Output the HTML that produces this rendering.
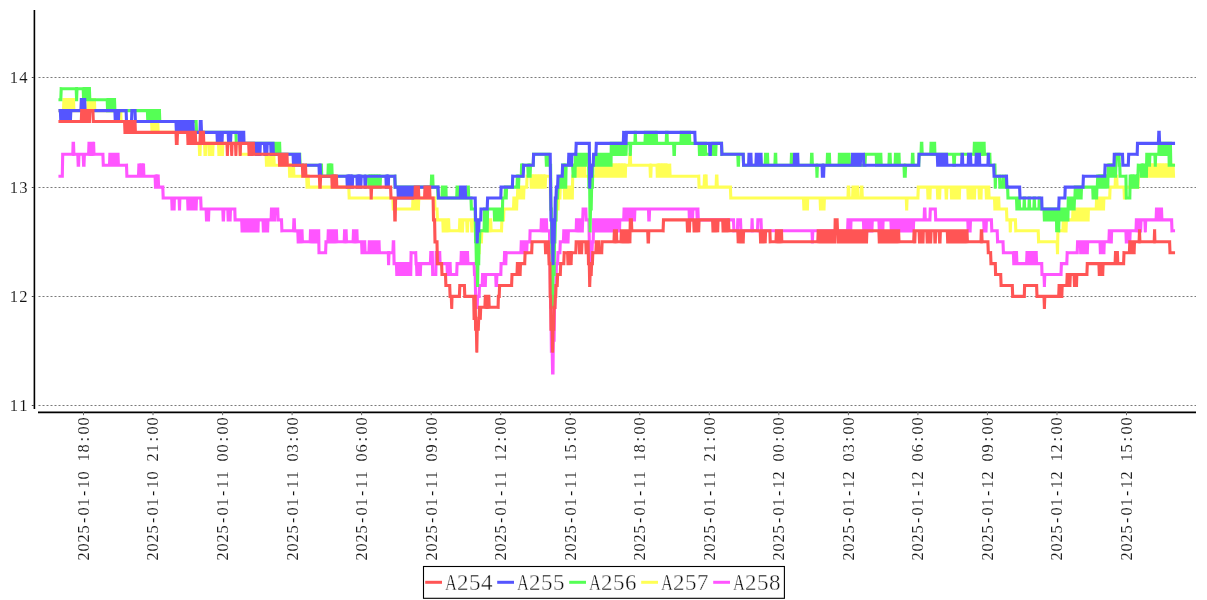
<!DOCTYPE html>
<html><head><meta charset="utf-8"><title>chart</title>
<style>
html,body{margin:0;padding:0;background:#fff;}
body{width:1207px;height:600px;overflow:hidden;}
svg{display:block;}
text{font-family:"Liberation Serif","Noto Serif CJK SC",serif;}
.t{opacity:0.999;}
.yl{font-size:16.6px;fill:#111;stroke:#fff;stroke-width:0.1px;}
.xl{font-size:16.4px;fill:#111;stroke:#fff;stroke-width:0.1px;}
.lg{font-size:23px;fill:#111;stroke:#fff;stroke-width:0.4px;}
.s{fill:none;stroke-width:3.1;stroke-linecap:square;}
</style></head><body>
<svg width="1207" height="600" viewBox="0 0 1207 600">
<rect width="1207" height="600" fill="#fff"/>
<g stroke="#7a7a7a" stroke-width="1" stroke-dasharray="2 2" fill="none">
<line x1="38.5" y1="405.5" x2="1196" y2="405.5"/>
<line x1="38.5" y1="296.5" x2="1196" y2="296.5"/>
<line x1="38.5" y1="187.5" x2="1196" y2="187.5"/>
<line x1="38.5" y1="77.5" x2="1196" y2="77.5"/>
</g>
<path class="s" stroke="#ff55ff" d="M60.0 176.2L62.3 176.2M62.3 176.2L62.7 154.3M62.7 154.3L72.8 154.3M72.8 154.3L73.1 143.4M73.1 143.4L73.5 143.4M73.5 143.4L73.9 154.3M73.9 154.3L77.8 154.3M77.8 154.3L78.2 165.2M78.2 165.2L78.6 165.2M78.6 165.2L78.9 154.3M78.9 154.3L83.2 154.3M83.2 154.3L83.6 165.2M83.6 165.2L84.0 165.2M84.0 165.2L84.4 154.3M84.4 154.3L88.6 154.3M88.6 154.3L89.0 143.4M89.0 143.4L89.4 143.4M89.4 143.4L89.8 154.3M89.8 154.3L90.2 154.3M90.2 154.3L90.5 143.4M90.5 143.4L90.9 143.4M90.9 143.4L91.3 154.3M91.3 154.3L91.7 154.3M91.7 154.3L92.1 143.4M92.1 143.4L92.5 143.4M92.5 143.4L92.9 154.3M92.9 154.3L93.3 154.3M93.3 154.3L93.6 143.4M93.6 143.4L94.0 154.3M94.0 154.3L102.9 154.3M102.9 154.3L103.3 165.2M103.3 165.2L109.5 165.2M109.5 165.2L109.9 154.3M109.9 154.3L110.3 154.3M110.3 154.3L110.6 165.2M110.6 165.2L111.0 165.2M111.0 165.2L111.4 154.3M111.4 154.3L111.8 154.3M111.8 154.3L112.2 165.2M112.2 165.2L112.6 165.2M112.6 165.2L113.0 154.3M113.0 154.3L113.4 154.3M113.4 154.3L113.7 165.2M113.7 165.2L114.1 165.2M114.1 165.2L114.5 154.3M114.5 154.3L114.9 154.3M114.9 154.3L115.3 165.2M115.3 165.2L115.7 165.2M115.7 165.2L116.1 154.3M116.1 154.3L116.4 154.3M116.4 154.3L116.8 165.2M116.8 165.2L117.2 165.2M117.2 165.2L117.6 154.3M117.6 154.3L118.0 154.3M118.0 154.3L118.4 165.2M118.4 165.2L126.5 165.2M126.5 165.2L126.9 176.2M126.9 176.2L138.5 176.2M138.5 176.2L138.9 165.2M138.9 165.2L139.3 165.2M139.3 165.2L139.6 176.2M139.6 176.2L140.0 176.2M140.0 176.2L140.4 165.2M140.4 165.2L140.8 165.2M140.8 165.2L141.2 176.2M141.2 176.2L141.6 176.2M141.6 176.2L142.0 165.2M142.0 165.2L142.4 165.2M142.4 165.2L142.7 176.2M142.7 176.2L143.1 176.2M143.1 176.2L143.5 165.2M143.5 165.2L143.9 176.2M143.9 176.2L155.1 176.2M155.1 176.2L155.5 187.1M155.5 187.1L155.9 187.1M155.9 187.1L156.3 176.2M156.3 176.2L156.7 176.2M156.7 176.2L157.0 187.1M157.0 187.1L157.4 187.1M157.4 187.1L157.8 176.2M157.8 176.2L158.2 176.2M158.2 176.2L158.6 187.1M158.6 187.1L162.8 187.1M162.8 187.1L163.2 198.0M163.2 198.0L171.7 198.0M171.7 198.0L172.1 209.0M172.1 209.0L172.5 209.0M172.5 209.0L172.9 198.0M172.9 198.0L173.3 198.0M173.3 198.0L173.7 209.0M173.7 209.0L174.1 209.0M174.1 209.0L174.4 198.0M174.4 198.0L179.1 198.0M179.1 198.0L179.5 209.0M179.5 209.0L179.9 198.0M179.9 198.0L187.6 198.0M187.6 198.0L188.0 209.0M188.0 209.0L188.4 209.0M188.4 209.0L188.7 198.0M188.7 198.0L189.1 198.0M189.1 198.0L189.5 209.0M189.5 209.0L189.9 209.0M189.9 209.0L190.3 198.0M190.3 198.0L190.7 198.0M190.7 198.0L191.1 209.0M191.1 209.0L191.5 209.0M191.5 209.0L191.8 198.0M191.8 198.0L192.2 198.0M192.2 198.0L192.6 209.0M192.6 209.0L193.0 209.0M193.0 209.0L193.4 198.0M193.4 198.0L193.8 198.0M193.8 198.0L194.2 209.0M194.2 209.0L194.5 209.0M194.5 209.0L194.9 198.0M194.9 198.0L195.3 198.0M195.3 198.0L195.7 209.0M195.7 209.0L196.1 209.0M196.1 209.0L196.5 198.0M196.5 198.0L200.7 198.0M200.7 198.0L201.1 209.0M201.1 209.0L206.1 209.0M206.1 209.0L206.5 219.9M206.5 219.9L206.9 219.9M206.9 219.9L207.3 209.0M207.3 209.0L207.7 209.0M207.7 209.0L208.1 219.9M208.1 219.9L208.5 219.9M208.5 219.9L208.9 209.0M208.9 209.0L222.8 209.0M222.8 209.0L223.2 219.9M223.2 219.9L223.5 219.9M223.5 219.9L223.9 209.0M223.9 209.0L227.8 209.0M227.8 209.0L228.2 219.9M228.2 219.9L228.6 219.9M228.6 219.9L229.0 209.0M229.0 209.0L229.3 209.0M229.3 209.0L229.7 219.9M229.7 219.9L230.1 219.9M230.1 219.9L230.5 209.0M230.5 209.0L234.8 209.0M234.8 209.0L235.1 219.9M235.1 219.9L241.7 219.9M241.7 219.9L242.1 230.8M242.1 230.8L242.5 230.8M242.5 230.8L242.9 219.9M242.9 219.9L243.3 219.9M243.3 219.9L243.7 230.8M243.7 230.8L244.0 230.8M244.0 230.8L244.4 219.9M244.4 219.9L244.8 219.9M244.8 219.9L245.2 230.8M245.2 230.8L245.6 230.8M245.6 230.8L246.0 219.9M246.0 219.9L246.4 219.9M246.4 219.9L246.7 230.8M246.7 230.8L247.1 230.8M247.1 230.8L247.5 219.9M247.5 219.9L247.9 219.9M247.9 219.9L248.3 230.8M248.3 230.8L248.7 230.8M248.7 230.8L249.1 219.9M249.1 219.9L249.4 219.9M249.4 219.9L249.8 230.8M249.8 230.8L250.2 230.8M250.2 230.8L250.6 219.9M250.6 219.9L251.0 219.9M251.0 219.9L251.4 230.8M251.4 230.8L251.8 230.8M251.8 230.8L252.2 219.9M252.2 219.9L252.5 219.9M252.5 219.9L252.9 230.8M252.9 230.8L253.3 230.8M253.3 230.8L253.7 219.9M253.7 219.9L254.1 219.9M254.1 219.9L254.5 230.8M254.5 230.8L254.9 230.8M254.9 230.8L255.2 219.9M255.2 219.9L255.6 219.9M255.6 219.9L256.0 230.8M256.0 230.8L256.4 230.8M256.4 230.8L256.8 219.9M256.8 219.9L257.2 219.9M257.2 219.9L257.6 230.8M257.6 230.8L258.0 230.8M258.0 230.8L258.3 219.9M258.3 219.9L263.0 219.9M263.0 219.9L263.4 230.8M263.4 230.8L263.8 230.8M263.8 230.8L264.1 219.9M264.1 219.9L265.7 219.9M265.7 219.9L266.1 230.8M266.1 230.8L267.6 230.8M267.6 230.8L268.0 219.9M268.0 219.9L271.1 219.9M271.1 219.9L271.5 209.0M271.5 209.0L271.9 209.0M271.9 209.0L272.3 219.9M272.3 219.9L274.6 219.9M274.6 219.9L275.0 209.0M275.0 209.0L277.7 209.0M277.7 209.0L278.1 219.9M278.1 219.9L281.5 219.9M281.5 219.9L281.9 230.8M281.9 230.8L293.5 230.8M293.5 230.8L293.9 219.9M293.9 219.9L294.3 219.9M294.3 219.9L294.7 230.8M294.7 230.8L297.8 230.8M297.8 230.8L298.2 241.8M298.2 241.8L299.3 241.8M299.3 241.8L299.7 230.8M299.7 230.8L302.0 230.8M302.0 230.8L302.4 241.8M302.4 241.8L310.2 241.8M310.2 241.8L310.5 230.8M310.5 230.8L310.9 230.8M310.9 230.8L311.3 241.8M311.3 241.8L311.7 241.8M311.7 241.8L312.1 230.8M312.1 230.8L312.5 230.8M312.5 230.8L312.9 241.8M312.9 241.8L313.2 241.8M313.2 241.8L313.6 230.8M313.6 230.8L314.0 230.8M314.0 230.8L314.4 241.8M314.4 241.8L314.8 241.8M314.8 241.8L315.2 230.8M315.2 230.8L315.6 230.8M315.6 230.8L316.0 241.8M316.0 241.8L316.3 241.8M316.3 241.8L316.7 230.8M316.7 230.8L317.1 230.8M317.1 230.8L317.5 241.8M317.5 241.8L317.9 241.8M317.9 241.8L318.3 230.8M318.3 230.8L318.7 230.8M318.7 230.8L319.0 252.7M319.0 252.7L325.6 252.7M325.6 252.7L326.0 241.8M326.0 241.8L327.9 241.8M327.9 241.8L328.3 230.8M328.3 230.8L328.7 230.8M328.7 230.8L329.1 241.8M329.1 241.8L329.5 241.8M329.5 241.8L329.9 230.8M329.9 230.8L330.3 230.8M330.3 230.8L330.6 241.8M330.6 241.8L331.0 241.8M331.0 241.8L331.4 230.8M331.4 230.8L331.8 230.8M331.8 230.8L332.2 241.8M332.2 241.8L332.6 241.8M332.6 241.8L333.0 230.8M333.0 230.8L333.3 230.8M333.3 230.8L333.7 241.8M333.7 241.8L334.1 241.8M334.1 241.8L334.5 230.8M334.5 230.8L334.9 230.8M334.9 230.8L335.3 241.8M335.3 241.8L335.7 241.8M335.7 241.8L336.1 230.8M336.1 230.8L336.4 230.8M336.4 230.8L336.8 241.8M336.8 241.8L344.2 241.8M344.2 241.8L344.6 230.8M344.6 230.8L344.9 230.8M344.9 230.8L345.3 241.8M345.3 241.8L345.7 241.8M345.7 241.8L346.1 230.8M346.1 230.8L346.5 241.8M346.5 241.8L353.1 241.8M353.1 241.8L353.5 230.8M353.5 230.8L353.8 230.8M353.8 230.8L354.2 241.8M354.2 241.8L354.6 241.8M354.6 241.8L355.0 230.8M355.0 230.8L355.4 230.8M355.4 230.8L355.8 241.8M355.8 241.8L356.2 241.8M356.2 241.8L356.5 230.8M356.5 230.8L356.9 230.8M356.9 230.8L357.3 241.8M357.3 241.8L361.6 241.8M361.6 241.8L362.0 252.7M362.0 252.7L364.3 252.7M364.3 252.7L364.7 241.8M364.7 241.8L365.1 252.7M365.1 252.7L368.9 252.7M368.9 252.7L369.3 241.8M369.3 241.8L369.7 241.8M369.7 241.8L370.1 252.7M370.1 252.7L370.5 252.7M370.5 252.7L370.9 241.8M370.9 241.8L371.2 241.8M371.2 241.8L371.6 252.7M371.6 252.7L372.0 252.7M372.0 252.7L372.4 241.8M372.4 241.8L372.8 241.8M372.8 241.8L373.2 252.7M373.2 252.7L373.6 252.7M373.6 252.7L373.9 241.8M373.9 241.8L374.3 241.8M374.3 241.8L374.7 252.7M374.7 252.7L375.1 252.7M375.1 252.7L375.5 241.8M375.5 241.8L375.9 241.8M375.9 241.8L376.3 252.7M376.3 252.7L376.7 252.7M376.7 252.7L377.0 241.8M377.0 241.8L377.4 241.8M377.4 241.8L377.8 252.7M377.8 252.7L378.2 252.7M378.2 252.7L378.6 241.8M378.6 241.8L379.0 241.8M379.0 241.8L379.4 252.7M379.4 252.7L388.3 252.7M388.3 252.7L388.6 263.6M388.6 263.6L389.0 252.7M389.0 252.7L392.9 252.7M392.9 252.7L393.3 241.8M393.3 241.8L393.7 241.8M393.7 241.8L394.1 263.6M394.1 263.6L396.4 263.6M396.4 263.6L396.8 274.5M396.8 274.5L397.1 274.5M397.1 274.5L397.5 263.6M397.5 263.6L397.9 263.6M397.9 263.6L398.3 274.5M398.3 274.5L398.7 274.5M398.7 274.5L399.1 263.6M399.1 263.6L399.5 263.6M399.5 263.6L399.8 274.5M399.8 274.5L400.2 274.5M400.2 274.5L400.6 263.6M400.6 263.6L401.0 263.6M401.0 263.6L401.4 274.5M401.4 274.5L401.8 274.5M401.8 274.5L402.2 263.6M402.2 263.6L402.6 263.6M402.6 263.6L402.9 274.5M402.9 274.5L403.3 274.5M403.3 274.5L403.7 263.6M403.7 263.6L404.1 263.6M404.1 263.6L404.5 274.5M404.5 274.5L404.9 274.5M404.9 274.5L405.3 263.6M405.3 263.6L405.6 263.6M405.6 263.6L406.0 274.5M406.0 274.5L406.4 274.5M406.4 274.5L406.8 263.6M406.8 263.6L407.2 263.6M407.2 263.6L407.6 274.5M407.6 274.5L408.0 274.5M408.0 274.5L408.4 263.6M408.4 263.6L408.7 263.6M408.7 263.6L409.1 274.5M409.1 274.5L409.5 274.5M409.5 274.5L409.9 263.6M409.9 263.6L410.3 263.6M410.3 263.6L410.7 274.5M410.7 274.5L411.1 252.7M411.1 252.7L415.7 252.7M415.7 252.7L416.1 263.6M416.1 263.6L416.5 263.6M416.5 263.6L416.9 274.5M416.9 274.5L417.2 274.5M417.2 274.5L417.6 263.6M417.6 263.6L418.0 263.6M418.0 263.6L418.4 274.5M418.4 274.5L418.8 274.5M418.8 274.5L419.2 263.6M419.2 263.6L419.6 263.6M419.6 263.6L420.0 274.5M420.0 274.5L420.3 274.5M420.3 274.5L420.7 263.6M420.7 263.6L430.4 263.6M430.4 263.6L430.8 252.7M430.8 252.7L431.2 252.7M431.2 252.7L431.6 263.6M431.6 263.6L431.9 263.6M431.9 263.6L432.3 252.7M432.3 252.7L432.7 274.5M432.7 274.5L435.8 274.5M435.8 274.5L436.2 252.7M436.2 252.7L436.6 252.7M436.6 252.7L437.0 263.6M437.0 263.6L437.4 263.6M437.4 263.6L437.7 252.7M437.7 252.7L438.1 252.7M438.1 252.7L438.5 263.6M438.5 263.6L438.9 263.6M438.9 263.6L439.3 252.7M439.3 252.7L439.7 252.7M439.7 252.7L440.1 263.6M440.1 263.6L447.0 263.6M447.0 263.6L447.4 274.5M447.4 274.5L447.8 274.5M447.8 274.5L448.2 263.6M448.2 263.6L448.6 263.6M448.6 263.6L449.0 274.5M449.0 274.5L449.3 274.5M449.3 274.5L449.7 263.6M449.7 263.6L450.1 263.6M450.1 263.6L450.5 274.5M450.5 274.5L456.7 274.5M456.7 274.5L457.1 263.6M457.1 263.6L460.9 263.6M460.9 263.6L461.3 252.7M461.3 252.7L461.7 252.7M461.7 252.7L462.1 263.6M462.1 263.6L462.5 263.6M462.5 263.6L462.9 252.7M462.9 252.7L463.3 252.7M463.3 252.7L463.6 263.6M463.6 263.6L464.0 263.6M464.0 263.6L464.4 252.7M464.4 252.7L464.8 252.7M464.8 252.7L465.2 263.6M465.2 263.6L465.6 263.6M465.6 263.6L466.0 252.7M466.0 252.7L466.4 252.7M466.4 252.7L466.7 263.6M466.7 263.6L467.1 263.6M467.1 263.6L467.5 252.7M467.5 252.7L467.9 263.6M467.9 263.6L474.1 263.6M474.1 263.6L474.5 274.5M474.5 274.5L475.2 274.5M475.2 274.5L475.6 296.4M475.6 296.4L476.8 296.4M476.8 296.4L477.2 307.3M477.2 307.3L477.6 296.4M477.6 296.4L479.1 296.4M479.1 296.4L479.5 285.5M479.5 285.5L482.2 285.5M482.2 285.5L482.6 274.5M482.6 274.5L483.0 274.5M483.0 274.5L483.4 285.5M483.4 285.5L483.7 285.5M483.7 285.5L484.1 274.5M484.1 274.5L484.5 274.5M484.5 274.5L484.9 285.5M484.9 285.5L485.3 285.5M485.3 285.5L485.7 274.5M485.7 274.5L495.7 274.5M495.7 274.5L496.1 285.5M496.1 285.5L496.5 285.5M496.5 285.5L496.9 274.5M496.9 274.5L500.8 274.5M500.8 274.5L501.1 263.6M501.1 263.6L504.2 263.6M504.2 263.6L504.6 252.7M504.6 252.7L505.0 252.7M505.0 252.7L505.4 263.6M505.4 263.6L505.8 263.6M505.8 263.6L506.2 252.7M506.2 252.7L520.9 252.7M520.9 252.7L521.3 241.8M521.3 241.8L521.6 241.8M521.6 241.8L522.0 252.7M522.0 252.7L522.4 252.7M522.4 252.7L522.8 241.8M522.8 241.8L523.2 241.8M523.2 241.8L523.6 252.7M523.6 252.7L524.0 252.7M524.0 252.7L524.3 241.8M524.3 241.8L524.7 241.8M524.7 241.8L525.1 252.7M525.1 252.7L525.5 252.7M525.5 252.7L525.9 241.8M525.9 241.8L526.3 241.8M526.3 241.8L526.7 252.7M526.7 252.7L527.1 241.8M527.1 241.8L529.8 241.8M529.8 241.8L530.1 230.8M530.1 230.8L541.0 230.8M541.0 230.8L541.4 219.9M541.4 219.9L541.7 219.9M541.7 219.9L542.1 230.8M542.1 230.8L542.5 230.8M542.5 230.8L542.9 219.9M542.9 219.9L543.3 219.9M543.3 219.9L543.7 230.8M543.7 230.8L544.1 230.8M544.1 230.8L544.4 219.9M544.4 219.9L544.8 219.9M544.8 219.9L545.2 230.8M545.2 230.8L545.6 230.8M545.6 230.8L546.0 219.9M546.0 219.9L546.4 219.9M546.4 219.9L546.8 230.8M546.8 230.8L549.5 230.8M549.5 230.8L549.9 263.6M549.9 263.6L550.2 263.6M550.2 263.6L550.6 307.3M550.6 307.3L551.0 307.3M551.0 307.3L551.4 351.1M551.4 351.1L552.2 351.1M552.2 351.1L552.6 372.9M552.6 372.9L553.0 372.9M553.0 372.9L553.3 340.1M553.3 340.1L554.1 340.1M554.1 340.1L554.5 307.3M554.5 307.3L554.9 307.3M554.9 307.3L555.3 285.5M555.3 285.5L556.0 285.5M556.0 285.5L556.4 263.6M556.4 263.6L557.6 263.6M557.6 263.6L558.0 252.7M558.0 252.7L559.9 252.7M559.9 252.7L560.3 241.8M560.3 241.8L563.4 241.8M563.4 241.8L563.8 230.8M563.8 230.8L564.2 230.8M564.2 230.8L564.6 241.8M564.6 241.8L564.9 241.8M564.9 241.8L565.3 230.8M565.3 230.8L565.7 230.8M565.7 230.8L566.1 241.8M566.1 241.8L566.5 241.8M566.5 241.8L566.9 230.8M566.9 230.8L567.3 230.8M567.3 230.8L567.6 241.8M567.6 241.8L568.0 241.8M568.0 241.8L568.4 230.8M568.4 230.8L576.2 230.8M576.2 230.8L576.5 219.9M576.5 219.9L576.9 219.9M576.9 219.9L577.3 230.8M577.3 230.8L577.7 230.8M577.7 230.8L578.1 219.9M578.1 219.9L578.5 219.9M578.5 219.9L578.9 230.8M578.9 230.8L579.2 230.8M579.2 230.8L579.6 219.9M579.6 219.9L580.0 219.9M580.0 219.9L580.4 230.8M580.4 230.8L580.8 230.8M580.8 230.8L581.2 219.9M581.2 219.9L581.6 219.9M581.6 219.9L582.0 230.8M582.0 230.8L582.3 230.8M582.3 230.8L582.7 219.9M582.7 219.9L583.1 209.0M583.1 209.0L585.8 209.0M585.8 209.0L586.2 219.9M586.2 219.9L588.9 219.9M588.9 219.9L589.3 241.8M589.3 241.8L590.1 241.8M590.1 241.8L590.5 263.6M590.5 263.6L590.8 263.6M590.8 263.6L591.2 252.7M591.2 252.7L592.0 252.7M592.0 252.7L592.4 241.8M592.4 241.8L593.2 241.8M593.2 241.8L593.6 219.9M593.6 219.9L593.9 219.9M593.9 219.9L594.3 230.8M594.3 230.8L594.7 230.8M594.7 230.8L595.1 219.9M595.1 219.9L595.5 219.9M595.5 219.9L595.9 230.8M595.9 230.8L596.3 230.8M596.3 230.8L596.6 219.9M596.6 219.9L597.0 219.9M597.0 219.9L597.4 230.8M597.4 230.8L597.8 230.8M597.8 230.8L598.2 219.9M598.2 219.9L598.6 219.9M598.6 219.9L599.0 230.8M599.0 230.8L599.4 230.8M599.4 230.8L599.7 219.9M599.7 219.9L600.1 219.9M600.1 219.9L600.5 230.8M600.5 230.8L600.9 230.8M600.9 230.8L601.3 219.9M601.3 219.9L601.7 219.9M601.7 219.9L602.1 230.8M602.1 230.8L602.4 230.8M602.4 230.8L602.8 219.9M602.8 219.9L603.2 219.9M603.2 219.9L603.6 230.8M603.6 230.8L604.0 230.8M604.0 230.8L604.4 219.9M604.4 219.9L604.8 219.9M604.8 219.9L605.2 230.8M605.2 230.8L605.5 230.8M605.5 230.8L605.9 219.9M605.9 219.9L606.3 219.9M606.3 219.9L606.7 230.8M606.7 230.8L607.1 230.8M607.1 230.8L607.5 219.9M607.5 219.9L607.9 219.9M607.9 219.9L608.2 230.8M608.2 230.8L608.6 230.8M608.6 230.8L609.0 219.9M609.0 219.9L609.4 219.9M609.4 219.9L609.8 230.8M609.8 230.8L610.2 230.8M610.2 230.8L610.6 219.9M610.6 219.9L611.0 219.9M611.0 219.9L611.3 230.8M611.3 230.8L611.7 230.8M611.7 230.8L612.1 219.9M612.1 219.9L612.5 219.9M612.5 219.9L612.9 230.8M612.9 230.8L613.3 230.8M613.3 230.8L613.7 219.9M613.7 219.9L614.0 219.9M614.0 219.9L614.4 230.8M614.4 230.8L614.8 230.8M614.8 230.8L615.2 219.9M615.2 219.9L615.6 219.9M615.6 219.9L616.0 230.8M616.0 230.8L616.4 230.8M616.4 230.8L616.8 219.9M616.8 219.9L617.1 219.9M617.1 219.9L617.5 230.8M617.5 230.8L617.9 230.8M617.9 230.8L618.3 219.9M618.3 219.9L618.7 219.9M618.7 219.9L619.1 230.8M619.1 230.8L619.5 230.8M619.5 230.8L619.8 219.9M619.8 219.9L623.7 219.9M623.7 219.9L624.1 209.0M624.1 209.0L624.5 209.0M624.5 209.0L624.9 219.9M624.9 219.9L625.3 219.9M625.3 219.9L625.6 209.0M625.6 209.0L626.0 209.0M626.0 209.0L626.4 219.9M626.4 219.9L626.8 219.9M626.8 219.9L627.2 209.0M627.2 209.0L627.6 209.0M627.6 209.0L628.0 219.9M628.0 219.9L628.3 219.9M628.3 219.9L628.7 209.0M628.7 209.0L629.1 209.0M629.1 209.0L629.5 219.9M629.5 219.9L629.9 219.9M629.9 219.9L630.3 209.0M630.3 209.0L630.7 209.0M630.7 209.0L631.1 219.9M631.1 219.9L631.4 219.9M631.4 219.9L631.8 209.0M631.8 209.0L632.2 209.0M632.2 209.0L632.6 219.9M632.6 219.9L633.0 219.9M633.0 219.9L633.4 209.0M633.4 209.0L633.8 209.0M633.8 209.0L634.1 219.9M634.1 219.9L634.5 219.9M634.5 219.9L634.9 209.0M634.9 209.0L648.5 209.0M648.5 209.0L648.8 219.9M648.8 219.9L649.2 219.9M649.2 219.9L649.6 209.0M649.6 209.0L689.1 209.0M689.1 209.0L689.4 219.9M689.4 219.9L689.8 219.9M689.8 219.9L690.2 209.0M690.2 209.0L690.6 209.0M690.6 209.0L691.0 219.9M691.0 219.9L691.4 219.9M691.4 219.9L691.8 209.0M691.8 209.0L692.1 209.0M692.1 209.0L692.5 219.9M692.5 219.9L692.9 209.0M692.9 209.0L696.8 209.0M696.8 209.0L697.2 219.9M697.2 219.9L697.6 219.9M697.6 219.9L697.9 209.0M697.9 209.0L698.3 219.9M698.3 219.9L733.5 219.9M733.5 219.9L733.9 230.8M733.9 230.8L737.4 230.8M737.4 230.8L737.8 219.9M737.8 219.9L740.5 219.9M740.5 219.9L740.9 230.8M740.9 230.8L751.7 230.8M751.7 230.8L752.1 219.9M752.1 219.9L752.5 230.8M752.5 230.8L757.5 230.8M757.5 230.8L757.9 219.9M757.9 219.9L761.0 219.9M761.0 219.9L761.4 230.8M761.4 230.8L812.0 230.8M812.0 230.8L812.4 241.8M812.4 241.8L812.8 230.8M812.8 230.8L847.6 230.8M847.6 230.8L848.0 219.9M848.0 219.9L848.3 219.9M848.3 219.9L848.7 230.8M848.7 230.8L849.1 230.8M849.1 230.8L849.5 219.9M849.5 219.9L849.9 219.9M849.9 219.9L850.3 230.8M850.3 230.8L850.7 230.8M850.7 230.8L851.0 219.9M851.0 219.9L863.4 219.9M863.4 219.9L863.8 230.8M863.8 230.8L864.2 230.8M864.2 230.8L864.6 219.9M864.6 219.9L865.0 219.9M865.0 219.9L865.4 230.8M865.4 230.8L865.7 230.8M865.7 230.8L866.1 219.9M866.1 219.9L866.5 219.9M866.5 219.9L866.9 230.8M866.9 230.8L867.3 230.8M867.3 230.8L867.7 219.9M867.7 219.9L868.1 219.9M868.1 219.9L868.4 230.8M868.4 230.8L868.8 230.8M868.8 230.8L869.2 219.9M869.2 219.9L869.6 219.9M869.6 219.9L870.0 230.8M870.0 230.8L870.4 230.8M870.4 230.8L870.8 219.9M870.8 219.9L871.2 219.9M871.2 219.9L871.5 230.8M871.5 230.8L871.9 230.8M871.9 230.8L872.3 219.9M872.3 219.9L878.9 219.9M878.9 219.9L879.3 230.8M879.3 230.8L879.7 230.8M879.7 230.8L880.0 219.9M880.0 219.9L880.4 219.9M880.4 219.9L880.8 230.8M880.8 230.8L881.2 230.8M881.2 230.8L881.6 219.9M881.6 219.9L882.0 219.9M882.0 219.9L882.4 230.8M882.4 230.8L882.8 230.8M882.8 230.8L883.1 219.9M883.1 219.9L890.9 219.9M890.9 219.9L891.3 230.8M891.3 230.8L891.6 230.8M891.6 230.8L892.0 219.9M892.0 219.9L892.4 219.9M892.4 219.9L892.8 230.8M892.8 230.8L893.2 230.8M893.2 230.8L893.6 219.9M893.6 219.9L894.0 219.9M894.0 219.9L894.4 230.8M894.4 230.8L894.7 230.8M894.7 230.8L895.1 219.9M895.1 219.9L895.5 219.9M895.5 219.9L895.9 230.8M895.9 230.8L896.3 230.8M896.3 230.8L896.7 219.9M896.7 219.9L897.1 219.9M897.1 219.9L897.4 230.8M897.4 230.8L897.8 230.8M897.8 230.8L898.2 219.9M898.2 219.9L898.6 219.9M898.6 219.9L899.0 230.8M899.0 230.8L899.4 230.8M899.4 230.8L899.8 219.9M899.8 219.9L900.2 219.9M900.2 219.9L900.5 230.8M900.5 230.8L900.9 230.8M900.9 230.8L901.3 219.9M901.3 219.9L901.7 219.9M901.7 219.9L902.1 230.8M902.1 230.8L902.5 230.8M902.5 230.8L902.9 219.9M902.9 219.9L903.2 219.9M903.2 219.9L903.6 230.8M903.6 230.8L904.0 230.8M904.0 230.8L904.4 219.9M904.4 219.9L904.8 219.9M904.8 219.9L905.2 230.8M905.2 230.8L905.6 230.8M905.6 230.8L906.0 219.9M906.0 219.9L906.3 219.9M906.3 219.9L906.7 230.8M906.7 230.8L907.1 230.8M907.1 230.8L907.5 219.9M907.5 219.9L907.9 219.9M907.9 219.9L908.3 230.8M908.3 230.8L908.7 230.8M908.7 230.8L909.0 219.9M909.0 219.9L909.4 219.9M909.4 219.9L909.8 230.8M909.8 230.8L910.2 230.8M910.2 230.8L910.6 219.9M910.6 219.9L911.0 219.9M911.0 219.9L911.4 230.8M911.4 230.8L911.8 230.8M911.8 230.8L912.1 219.9M912.1 219.9L912.5 219.9M912.5 219.9L912.9 230.8M912.9 230.8L913.3 230.8M913.3 230.8L913.7 219.9M913.7 219.9L924.1 219.9M924.1 219.9L924.5 209.0M924.5 209.0L924.9 209.0M924.9 209.0L925.3 219.9M925.3 219.9L929.9 219.9M929.9 219.9L930.3 209.0M930.3 209.0L935.3 209.0M935.3 209.0L935.7 219.9M935.7 219.9L967.8 219.9M967.8 219.9L968.2 230.8M968.2 230.8L968.6 230.8M968.6 230.8L969.0 219.9M969.0 219.9L969.4 219.9M969.4 219.9L969.7 230.8M969.7 230.8L970.1 230.8M970.1 230.8L970.5 219.9M970.5 219.9L983.7 219.9M983.7 219.9L984.1 230.8M984.1 230.8L984.4 230.8M984.4 230.8L984.8 219.9M984.8 219.9L985.2 219.9M985.2 219.9L985.6 230.8M985.6 230.8L986.0 230.8M986.0 230.8L986.4 219.9M986.4 219.9L991.4 219.9M991.4 219.9L991.8 230.8M991.8 230.8L997.2 230.8M997.2 230.8L997.6 241.8M997.6 241.8L1003.0 241.8M1003.0 241.8L1003.4 252.7M1003.4 252.7L1013.4 252.7M1013.4 252.7L1013.8 263.6M1013.8 263.6L1014.2 263.6M1014.2 263.6L1014.6 252.7M1014.6 252.7L1015.0 252.7M1015.0 252.7L1015.4 263.6M1015.4 263.6L1015.8 263.6M1015.8 263.6L1016.1 252.7M1016.1 252.7L1016.5 252.7M1016.5 252.7L1016.9 263.6M1016.9 263.6L1026.6 263.6M1026.6 263.6L1027.0 252.7M1027.0 252.7L1027.4 252.7M1027.4 252.7L1027.7 263.6M1027.7 263.6L1028.1 263.6M1028.1 263.6L1028.5 252.7M1028.5 252.7L1028.9 252.7M1028.9 252.7L1029.3 263.6M1029.3 263.6L1029.7 263.6M1029.7 263.6L1030.1 252.7M1030.1 252.7L1030.4 252.7M1030.4 252.7L1030.8 263.6M1030.8 263.6L1031.2 263.6M1031.2 263.6L1031.6 252.7M1031.6 252.7L1032.0 252.7M1032.0 252.7L1032.4 263.6M1032.4 263.6L1032.8 263.6M1032.8 263.6L1033.2 252.7M1033.2 252.7L1033.5 252.7M1033.5 252.7L1033.9 263.6M1033.9 263.6L1034.3 263.6M1034.3 263.6L1034.7 252.7M1034.7 252.7L1035.1 252.7M1035.1 252.7L1035.5 263.6M1035.5 263.6L1035.9 263.6M1035.9 263.6L1036.2 252.7M1036.2 252.7L1036.6 263.6M1036.6 263.6L1041.7 263.6M1041.7 263.6L1042.0 274.5M1042.0 274.5L1044.0 274.5M1044.0 274.5L1044.4 285.5M1044.4 285.5L1044.8 274.5M1044.8 274.5L1061.0 274.5M1061.0 274.5L1061.4 263.6M1061.4 263.6L1066.8 263.6M1066.8 263.6L1067.2 252.7M1067.2 252.7L1077.2 252.7M1077.2 252.7L1077.6 241.8M1077.6 241.8L1080.3 241.8M1080.3 241.8L1080.7 252.7M1080.7 252.7L1082.6 252.7M1082.6 252.7L1083.0 241.8M1083.0 241.8L1084.6 241.8M1084.6 241.8L1085.0 252.7M1085.0 252.7L1087.3 252.7M1087.3 252.7L1087.7 241.8M1087.7 241.8L1100.0 241.8M1100.0 241.8L1100.4 252.7M1100.4 252.7L1100.8 252.7M1100.8 252.7L1101.2 241.8M1101.2 241.8L1101.6 241.8M1101.6 241.8L1102.0 252.7M1102.0 252.7L1102.4 252.7M1102.4 252.7L1102.7 241.8M1102.7 241.8L1103.1 241.8M1103.1 241.8L1103.5 252.7M1103.5 252.7L1103.9 252.7M1103.9 252.7L1104.3 241.8M1104.3 241.8L1108.9 241.8M1108.9 241.8L1109.3 230.8M1109.3 230.8L1109.7 230.8M1109.7 230.8L1110.1 241.8M1110.1 241.8L1111.3 241.8M1111.3 241.8L1111.6 230.8M1111.6 230.8L1125.9 230.8M1125.9 230.8L1126.3 241.8M1126.3 241.8L1126.7 241.8M1126.7 241.8L1127.1 230.8M1127.1 230.8L1127.5 230.8M1127.5 230.8L1127.9 241.8M1127.9 241.8L1128.3 241.8M1128.3 241.8L1128.7 230.8M1128.7 230.8L1129.0 230.8M1129.0 230.8L1129.4 241.8M1129.4 241.8L1129.8 241.8M1129.8 241.8L1130.2 230.8M1130.2 230.8L1136.0 230.8M1136.0 230.8L1136.4 219.9M1136.4 219.9L1136.8 219.9M1136.8 219.9L1137.2 230.8M1137.2 230.8L1137.5 230.8M1137.5 230.8L1137.9 219.9M1137.9 219.9L1138.3 219.9M1138.3 219.9L1138.7 230.8M1138.7 230.8L1139.1 230.8M1139.1 230.8L1139.5 219.9M1139.5 219.9L1139.9 219.9M1139.9 219.9L1140.2 230.8M1140.2 230.8L1140.6 230.8M1140.6 230.8L1141.0 219.9M1141.0 219.9L1144.9 219.9M1144.9 219.9L1145.3 230.8M1145.3 230.8L1145.7 219.9M1145.7 219.9L1156.1 219.9M1156.1 219.9L1156.5 209.0M1156.5 209.0L1156.9 209.0M1156.9 209.0L1157.3 219.9M1157.3 219.9L1157.6 219.9M1157.6 219.9L1158.0 209.0M1158.0 209.0L1158.4 209.0M1158.4 209.0L1158.8 219.9M1158.8 219.9L1159.2 219.9M1159.2 219.9L1159.6 209.0M1159.6 209.0L1160.0 209.0M1160.0 209.0L1160.4 219.9M1160.4 219.9L1160.7 219.9M1160.7 219.9L1161.1 209.0M1161.1 209.0L1161.5 209.0M1161.5 209.0L1161.9 219.9M1161.9 219.9L1171.6 219.9M1171.6 219.9L1172.0 230.8M1172.0 230.8L1173.5 230.8"/>
<path class="s" stroke="#ffff55" d="M60.0 110.6L63.5 110.6M63.5 110.6L63.9 99.7M63.9 99.7L64.3 99.7M64.3 99.7L64.6 110.6M64.6 110.6L65.0 110.6M65.0 110.6L65.4 99.7M65.4 99.7L65.8 99.7M65.8 99.7L66.2 110.6M66.2 110.6L66.6 110.6M66.6 110.6L67.0 99.7M67.0 99.7L67.3 99.7M67.3 99.7L67.7 110.6M67.7 110.6L68.1 110.6M68.1 110.6L68.5 99.7M68.5 99.7L68.9 99.7M68.9 99.7L69.3 110.6M69.3 110.6L69.7 110.6M69.7 110.6L70.1 99.7M70.1 99.7L70.4 99.7M70.4 99.7L70.8 110.6M70.8 110.6L71.2 110.6M71.2 110.6L71.6 99.7M71.6 99.7L72.0 99.7M72.0 99.7L72.4 110.6M72.4 110.6L72.8 110.6M72.8 110.6L73.1 99.7M73.1 99.7L73.5 99.7M73.5 99.7L73.9 110.6M73.9 110.6L87.8 110.6M87.8 110.6L88.2 99.7M88.2 99.7L88.6 110.6M88.6 110.6L90.9 110.6M90.9 110.6L91.3 99.7M91.3 99.7L91.7 110.6M91.7 110.6L94.0 110.6M94.0 110.6L94.4 99.7M94.4 99.7L94.8 110.6M94.8 110.6L120.7 110.6M120.7 110.6L121.1 121.5M121.1 121.5L151.6 121.5M151.6 121.5L152.0 132.4M152.0 132.4L152.4 132.4M152.4 132.4L152.8 121.5M152.8 121.5L153.2 121.5M153.2 121.5L153.6 132.4M153.6 132.4L154.0 132.4M154.0 132.4L154.3 121.5M154.3 121.5L154.7 121.5M154.7 121.5L155.1 132.4M155.1 132.4L155.5 132.4M155.5 132.4L155.9 121.5M155.9 121.5L156.3 121.5M156.3 121.5L156.7 132.4M156.7 132.4L157.0 132.4M157.0 132.4L157.4 121.5M157.4 121.5L157.8 121.5M157.8 121.5L158.2 132.4M158.2 132.4L189.9 132.4M189.9 132.4L190.3 143.4M190.3 143.4L199.2 143.4M199.2 143.4L199.6 154.3M199.6 154.3L200.0 154.3M200.0 154.3L200.3 143.4M200.3 143.4L204.6 143.4M204.6 143.4L205.0 154.3M205.0 154.3L205.4 154.3M205.4 154.3L205.8 143.4M205.8 143.4L208.9 143.4M208.9 143.4L209.2 154.3M209.2 154.3L209.6 154.3M209.6 154.3L210.0 143.4M210.0 143.4L210.4 143.4M210.4 143.4L210.8 154.3M210.8 154.3L211.2 154.3M211.2 154.3L211.6 143.4M211.6 143.4L211.9 143.4M211.9 143.4L212.3 154.3M212.3 154.3L212.7 154.3M212.7 154.3L213.1 143.4M213.1 143.4L218.5 143.4M218.5 143.4L218.9 154.3M218.9 154.3L219.3 154.3M219.3 154.3L219.7 143.4M219.7 143.4L220.1 143.4M220.1 143.4L220.5 154.3M220.5 154.3L220.8 154.3M220.8 154.3L221.2 143.4M221.2 143.4L221.6 143.4M221.6 143.4L222.0 154.3M222.0 154.3L222.4 154.3M222.4 154.3L222.8 143.4M222.8 143.4L239.8 143.4M239.8 143.4L240.2 154.3M240.2 154.3L266.1 154.3M266.1 154.3L266.5 165.2M266.5 165.2L266.8 165.2M266.8 165.2L267.2 154.3M267.2 154.3L267.6 154.3M267.6 154.3L268.0 165.2M268.0 165.2L268.4 165.2M268.4 165.2L268.8 154.3M268.8 154.3L269.2 154.3M269.2 154.3L269.6 165.2M269.6 165.2L269.9 165.2M269.9 165.2L270.3 154.3M270.3 154.3L270.7 154.3M270.7 154.3L271.1 165.2M271.1 165.2L271.5 165.2M271.5 165.2L271.9 154.3M271.9 154.3L272.3 154.3M272.3 154.3L272.6 165.2M272.6 165.2L273.0 165.2M273.0 165.2L273.4 154.3M273.4 154.3L273.8 154.3M273.8 154.3L274.2 165.2M274.2 165.2L289.3 165.2M289.3 165.2L289.7 176.2M289.7 176.2L290.0 176.2M290.0 176.2L290.4 165.2M290.4 165.2L290.8 165.2M290.8 165.2L291.2 176.2M291.2 176.2L291.6 176.2M291.6 176.2L292.0 165.2M292.0 165.2L292.4 165.2M292.4 165.2L292.8 176.2M292.8 176.2L293.1 176.2M293.1 176.2L293.5 165.2M293.5 165.2L293.9 176.2M293.9 176.2L306.7 176.2M306.7 176.2L307.1 187.1M307.1 187.1L307.4 187.1M307.4 187.1L307.8 176.2M307.8 176.2L308.2 176.2M308.2 176.2L308.6 187.1M308.6 187.1L348.8 187.1M348.8 187.1L349.2 198.0M349.2 198.0L392.9 198.0M392.9 198.0L393.3 209.0M393.3 209.0L412.6 209.0M412.6 209.0L413.0 198.0M413.0 198.0L413.4 198.0M413.4 198.0L413.8 209.0M413.8 209.0L414.2 209.0M414.2 209.0L414.5 198.0M414.5 198.0L414.9 198.0M414.9 198.0L415.3 209.0M415.3 209.0L415.7 209.0M415.7 209.0L416.1 198.0M416.1 198.0L416.5 198.0M416.5 198.0L416.9 209.0M416.9 209.0L417.2 209.0M417.2 209.0L417.6 198.0M417.6 198.0L418.0 198.0M418.0 198.0L418.4 209.0M418.4 209.0L418.8 198.0M418.8 198.0L434.6 198.0M434.6 198.0L435.0 209.0M435.0 209.0L437.0 209.0M437.0 209.0L437.4 219.9M437.4 219.9L442.8 219.9M442.8 219.9L443.2 230.8M443.2 230.8L443.5 230.8M443.5 230.8L443.9 219.9M443.9 219.9L444.3 219.9M444.3 219.9L444.7 230.8M444.7 230.8L445.1 230.8M445.1 230.8L445.5 219.9M445.5 219.9L445.9 219.9M445.9 219.9L446.2 230.8M446.2 230.8L446.6 230.8M446.6 230.8L447.0 219.9M447.0 219.9L447.4 219.9M447.4 219.9L447.8 230.8M447.8 230.8L448.2 230.8M448.2 230.8L448.6 219.9M448.6 219.9L449.0 230.8M449.0 230.8L459.4 230.8M459.4 230.8L459.8 219.9M459.8 219.9L460.2 219.9M460.2 219.9L460.6 230.8M460.6 230.8L460.9 230.8M460.9 230.8L461.3 219.9M461.3 219.9L461.7 219.9M461.7 219.9L462.1 230.8M462.1 230.8L462.5 230.8M462.5 230.8L462.9 219.9M462.9 219.9L466.7 219.9M466.7 219.9L467.1 230.8M467.1 230.8L467.5 230.8M467.5 230.8L467.9 219.9M467.9 219.9L471.4 219.9M471.4 219.9L471.8 230.8M471.8 230.8L472.1 230.8M472.1 230.8L472.5 219.9M472.5 219.9L476.4 219.9M476.4 219.9L476.8 241.8M476.8 241.8L478.3 241.8M478.3 241.8L478.7 252.7M478.7 252.7L479.1 252.7M479.1 252.7L479.5 241.8M479.5 241.8L481.4 241.8M481.4 241.8L481.8 230.8M481.8 230.8L488.4 230.8M488.4 230.8L488.8 219.9M488.8 219.9L489.2 219.9M489.2 219.9L489.5 230.8M489.5 230.8L489.9 230.8M489.9 230.8L490.3 219.9M490.3 219.9L490.7 219.9M490.7 219.9L491.1 230.8M491.1 230.8L501.5 230.8M501.5 230.8L501.9 219.9M501.9 219.9L503.5 219.9M503.5 219.9L503.9 209.0M503.9 209.0L513.5 209.0M513.5 209.0L513.9 198.0M513.9 198.0L514.3 198.0M514.3 198.0L514.7 209.0M514.7 209.0L515.1 209.0M515.1 209.0L515.5 198.0M515.5 198.0L515.8 198.0M515.8 198.0L516.2 209.0M516.2 209.0L516.6 209.0M516.6 209.0L517.0 198.0M517.0 198.0L517.4 198.0M517.4 198.0L517.8 187.1M517.8 187.1L518.2 187.1M518.2 187.1L518.5 198.0M518.5 198.0L518.9 198.0M518.9 198.0L519.3 187.1M519.3 187.1L519.7 187.1M519.7 187.1L520.1 198.0M520.1 198.0L520.5 198.0M520.5 198.0L520.9 187.1M520.9 187.1L521.3 187.1M521.3 187.1L521.6 198.0M521.6 198.0L522.0 198.0M522.0 198.0L522.4 187.1M522.4 187.1L522.8 187.1M522.8 187.1L523.2 198.0M523.2 198.0L523.6 198.0M523.6 198.0L524.0 187.1M524.0 187.1L526.7 187.1M526.7 187.1L527.1 176.2M527.1 176.2L530.9 176.2M530.9 176.2L531.3 187.1M531.3 187.1L531.7 187.1M531.7 187.1L532.1 176.2M532.1 176.2L532.5 176.2M532.5 176.2L532.9 187.1M532.9 187.1L533.2 187.1M533.2 187.1L533.6 176.2M533.6 176.2L534.0 176.2M534.0 176.2L534.4 187.1M534.4 187.1L534.8 187.1M534.8 187.1L535.2 176.2M535.2 176.2L535.6 176.2M535.6 176.2L535.9 187.1M535.9 187.1L536.3 187.1M536.3 187.1L536.7 176.2M536.7 176.2L537.1 176.2M537.1 176.2L537.5 187.1M537.5 187.1L537.9 187.1M537.9 187.1L538.3 176.2M538.3 176.2L538.7 176.2M538.7 176.2L539.0 187.1M539.0 187.1L539.4 187.1M539.4 187.1L539.8 176.2M539.8 176.2L540.2 176.2M540.2 176.2L540.6 187.1M540.6 187.1L541.0 187.1M541.0 187.1L541.4 176.2M541.4 176.2L541.7 176.2M541.7 176.2L542.1 187.1M542.1 187.1L542.5 187.1M542.5 187.1L542.9 176.2M542.9 176.2L543.3 176.2M543.3 176.2L543.7 187.1M543.7 187.1L544.1 187.1M544.1 187.1L544.4 176.2M544.4 176.2L544.8 176.2M544.8 176.2L545.2 187.1M545.2 187.1L545.6 176.2M545.6 176.2L550.2 176.2M550.2 176.2L550.6 209.0M550.6 209.0L551.4 209.0M551.4 209.0L551.8 230.8M551.8 230.8L552.6 230.8M552.6 230.8L553.0 241.8M553.0 241.8L553.3 230.8M553.3 230.8L554.1 230.8M554.1 230.8L554.5 219.9M554.5 219.9L555.7 219.9M555.7 219.9L556.0 209.0M556.0 209.0L558.0 209.0M558.0 209.0L558.4 198.0M558.4 198.0L559.9 198.0M559.9 198.0L560.3 187.1M560.3 187.1L564.2 187.1M564.2 187.1L564.6 198.0M564.6 198.0L564.9 198.0M564.9 198.0L565.3 187.1M565.3 187.1L565.7 187.1M565.7 187.1L566.1 198.0M566.1 198.0L566.5 198.0M566.5 198.0L566.9 187.1M566.9 187.1L567.3 187.1M567.3 187.1L567.6 198.0M567.6 198.0L568.0 198.0M568.0 198.0L568.4 187.1M568.4 187.1L568.8 187.1M568.8 187.1L569.2 198.0M569.2 198.0L569.6 198.0M569.6 198.0L570.0 187.1M570.0 187.1L570.4 187.1M570.4 187.1L570.7 198.0M570.7 198.0L571.1 198.0M571.1 198.0L571.5 187.1M571.5 187.1L571.9 187.1M571.9 187.1L572.3 198.0M572.3 198.0L572.7 176.2M572.7 176.2L576.2 176.2M576.2 176.2L576.5 165.2M576.5 165.2L576.9 165.2M576.9 165.2L577.3 176.2M577.3 176.2L577.7 176.2M577.7 176.2L578.1 165.2M578.1 165.2L578.5 165.2M578.5 165.2L578.9 176.2M578.9 176.2L579.2 176.2M579.2 176.2L579.6 165.2M579.6 165.2L580.0 165.2M580.0 165.2L580.4 176.2M580.4 176.2L580.8 176.2M580.8 176.2L581.2 165.2M581.2 165.2L581.6 165.2M581.6 165.2L582.0 176.2M582.0 176.2L582.3 176.2M582.3 176.2L582.7 165.2M582.7 165.2L583.1 165.2M583.1 165.2L583.5 176.2M583.5 176.2L583.9 176.2M583.9 176.2L584.3 165.2M584.3 165.2L584.7 165.2M584.7 165.2L585.0 176.2M585.0 176.2L590.1 176.2M590.1 176.2L590.5 187.1M590.5 187.1L590.8 176.2M590.8 176.2L595.9 176.2M595.9 176.2L596.3 165.2M596.3 165.2L596.6 165.2M596.6 165.2L597.0 176.2M597.0 176.2L597.4 176.2M597.4 176.2L597.8 165.2M597.8 165.2L598.2 165.2M598.2 165.2L598.6 176.2M598.6 176.2L599.0 176.2M599.0 176.2L599.4 165.2M599.4 165.2L599.7 165.2M599.7 165.2L600.1 176.2M600.1 176.2L600.5 176.2M600.5 176.2L600.9 165.2M600.9 165.2L601.3 165.2M601.3 165.2L601.7 176.2M601.7 176.2L602.1 176.2M602.1 176.2L602.4 165.2M602.4 165.2L602.8 165.2M602.8 165.2L603.2 176.2M603.2 176.2L603.6 176.2M603.6 176.2L604.0 165.2M604.0 165.2L604.4 165.2M604.4 165.2L604.8 176.2M604.8 176.2L605.2 176.2M605.2 176.2L605.5 165.2M605.5 165.2L605.9 165.2M605.9 165.2L606.3 176.2M606.3 176.2L606.7 176.2M606.7 176.2L607.1 165.2M607.1 165.2L607.5 165.2M607.5 165.2L607.9 176.2M607.9 176.2L608.2 176.2M608.2 176.2L608.6 165.2M608.6 165.2L609.0 165.2M609.0 165.2L609.4 176.2M609.4 176.2L609.8 176.2M609.8 176.2L610.2 165.2M610.2 165.2L610.6 165.2M610.6 165.2L611.0 176.2M611.0 176.2L611.3 176.2M611.3 176.2L611.7 165.2M611.7 165.2L612.1 165.2M612.1 165.2L612.5 176.2M612.5 176.2L612.9 176.2M612.9 176.2L613.3 165.2M613.3 165.2L613.7 165.2M613.7 165.2L614.0 176.2M614.0 176.2L614.4 176.2M614.4 176.2L614.8 165.2M614.8 165.2L615.2 165.2M615.2 165.2L615.6 176.2M615.6 176.2L616.0 176.2M616.0 176.2L616.4 165.2M616.4 165.2L616.8 165.2M616.8 165.2L617.1 176.2M617.1 176.2L617.5 176.2M617.5 176.2L617.9 165.2M617.9 165.2L618.3 165.2M618.3 165.2L618.7 176.2M618.7 176.2L619.1 176.2M619.1 176.2L619.5 165.2M619.5 165.2L619.8 165.2M619.8 165.2L620.2 176.2M620.2 176.2L620.6 176.2M620.6 176.2L621.0 165.2M621.0 165.2L621.4 165.2M621.4 165.2L621.8 176.2M621.8 176.2L622.2 176.2M622.2 176.2L622.5 165.2M622.5 165.2L622.9 165.2M622.9 165.2L623.3 176.2M623.3 176.2L623.7 176.2M623.7 176.2L624.1 165.2M624.1 165.2L624.5 165.2M624.5 165.2L624.9 176.2M624.9 176.2L625.3 176.2M625.3 176.2L625.6 165.2M625.6 165.2L629.5 165.2M629.5 165.2L629.9 154.3M629.9 154.3L630.3 154.3M630.3 154.3L630.7 165.2M630.7 165.2L650.0 165.2M650.0 165.2L650.4 176.2M650.4 176.2L650.8 176.2M650.8 176.2L651.2 165.2M651.2 165.2L657.0 165.2M657.0 165.2L657.3 176.2M657.3 176.2L657.7 176.2M657.7 176.2L658.1 165.2M658.1 165.2L658.5 165.2M658.5 165.2L658.9 176.2M658.9 176.2L659.3 176.2M659.3 176.2L659.7 165.2M659.7 165.2L660.1 165.2M660.1 165.2L660.4 176.2M660.4 176.2L660.8 176.2M660.8 176.2L661.2 165.2M661.2 165.2L661.6 165.2M661.6 165.2L662.0 176.2M662.0 176.2L662.4 176.2M662.4 176.2L662.8 165.2M662.8 165.2L663.1 165.2M663.1 165.2L663.5 176.2M663.5 176.2L663.9 176.2M663.9 176.2L664.3 165.2M664.3 165.2L664.7 165.2M664.7 165.2L665.1 176.2M665.1 176.2L665.5 176.2M665.5 176.2L665.9 165.2M665.9 165.2L666.2 165.2M666.2 165.2L666.6 176.2M666.6 176.2L667.0 176.2M667.0 176.2L667.4 165.2M667.4 165.2L669.7 165.2M669.7 165.2L670.1 176.2M670.1 176.2L698.7 176.2M698.7 176.2L699.1 187.1M699.1 187.1L704.1 187.1M704.1 187.1L704.5 176.2M704.5 176.2L704.9 176.2M704.9 176.2L705.3 187.1M705.3 187.1L705.7 187.1M705.7 187.1L706.1 176.2M706.1 176.2L706.4 187.1M706.4 187.1L716.1 187.1M716.1 187.1L716.5 176.2M716.5 176.2L716.9 176.2M716.9 176.2L717.3 187.1M717.3 187.1L730.4 187.1M730.4 187.1L730.8 198.0M730.8 198.0L803.5 198.0M803.5 198.0L803.9 209.0M803.9 209.0L804.3 209.0M804.3 209.0L804.7 198.0M804.7 198.0L805.0 198.0M805.0 198.0L805.4 209.0M805.4 209.0L805.8 209.0M805.8 209.0L806.2 198.0M806.2 198.0L806.6 198.0M806.6 198.0L807.0 209.0M807.0 209.0L807.4 209.0M807.4 209.0L807.7 198.0M807.7 198.0L820.1 198.0M820.1 198.0L820.5 209.0M820.5 209.0L820.9 209.0M820.9 209.0L821.3 198.0M821.3 198.0L821.7 198.0M821.7 198.0L822.1 209.0M822.1 209.0L822.4 209.0M822.4 209.0L822.8 198.0M822.8 198.0L823.2 198.0M823.2 198.0L823.6 209.0M823.6 209.0L824.0 209.0M824.0 209.0L824.4 198.0M824.4 198.0L848.0 198.0M848.0 198.0L848.3 187.1M848.3 187.1L848.7 187.1M848.7 187.1L849.1 198.0M849.1 198.0L852.6 198.0M852.6 198.0L853.0 187.1M853.0 187.1L853.4 187.1M853.4 187.1L853.8 198.0M853.8 198.0L854.1 198.0M854.1 198.0L854.5 187.1M854.5 187.1L854.9 187.1M854.9 187.1L855.3 198.0M855.3 198.0L855.7 198.0M855.7 198.0L856.1 187.1M856.1 187.1L856.5 187.1M856.5 187.1L856.8 198.0M856.8 198.0L857.2 198.0M857.2 198.0L857.6 187.1M857.6 187.1L858.0 198.0M858.0 198.0L861.1 198.0M861.1 198.0L861.5 187.1M861.5 187.1L861.9 187.1M861.9 187.1L862.3 198.0M862.3 198.0L906.3 198.0M906.3 198.0L906.7 209.0M906.7 209.0L907.1 198.0M907.1 198.0L917.9 198.0M917.9 198.0L918.3 187.1M918.3 187.1L927.6 187.1M927.6 187.1L928.0 198.0M928.0 198.0L928.4 198.0M928.4 198.0L928.8 187.1M928.8 187.1L929.1 187.1M929.1 187.1L929.5 198.0M929.5 198.0L929.9 198.0M929.9 198.0L930.3 187.1M930.3 187.1L937.3 187.1M937.3 187.1L937.7 198.0M937.7 198.0L938.0 198.0M938.0 198.0L938.4 187.1M938.4 187.1L938.8 187.1M938.8 187.1L939.2 198.0M939.2 198.0L939.6 198.0M939.6 198.0L940.0 187.1M940.0 187.1L945.8 187.1M945.8 187.1L946.2 198.0M946.2 198.0L946.5 198.0M946.5 198.0L946.9 187.1M946.9 187.1L951.2 187.1M951.2 187.1L951.6 198.0M951.6 198.0L952.0 198.0M952.0 198.0L952.3 187.1M952.3 187.1L952.7 187.1M952.7 187.1L953.1 198.0M953.1 198.0L953.5 198.0M953.5 198.0L953.9 187.1M953.9 187.1L954.3 187.1M954.3 187.1L954.7 198.0M954.7 198.0L955.1 198.0M955.1 198.0L955.4 187.1M955.4 187.1L955.8 187.1M955.8 187.1L956.2 198.0M956.2 198.0L956.6 198.0M956.6 198.0L957.0 187.1M957.0 187.1L957.4 187.1M957.4 187.1L957.8 198.0M957.8 198.0L958.1 198.0M958.1 198.0L958.5 187.1M958.5 187.1L958.9 187.1M958.9 187.1L959.3 198.0M959.3 198.0L959.7 187.1M959.7 187.1L967.8 187.1M967.8 187.1L968.2 198.0M968.2 198.0L968.6 198.0M968.6 198.0L969.0 187.1M969.0 187.1L969.4 187.1M969.4 187.1L969.7 198.0M969.7 198.0L970.1 198.0M970.1 198.0L970.5 187.1M970.5 187.1L970.9 187.1M970.9 187.1L971.3 198.0M971.3 198.0L971.7 198.0M971.7 198.0L972.1 187.1M972.1 187.1L972.5 187.1M972.5 187.1L972.8 198.0M972.8 198.0L973.2 198.0M973.2 198.0L973.6 187.1M973.6 187.1L974.0 187.1M974.0 187.1L974.4 198.0M974.4 198.0L974.8 187.1M974.8 187.1L979.0 187.1M979.0 187.1L979.4 198.0M979.4 198.0L979.8 198.0M979.8 198.0L980.2 187.1M980.2 187.1L980.6 187.1M980.6 187.1L981.0 198.0M981.0 198.0L981.3 187.1M981.3 187.1L986.0 187.1M986.0 187.1L986.4 198.0M986.4 198.0L986.8 198.0M986.8 198.0L987.1 187.1M987.1 187.1L987.5 187.1M987.5 187.1L987.9 198.0M987.9 198.0L988.3 198.0M988.3 198.0L988.7 187.1M988.7 187.1L989.1 198.0M989.1 198.0L994.5 198.0M994.5 198.0L994.9 209.0M994.9 209.0L995.3 209.0M995.3 209.0L995.6 198.0M995.6 198.0L996.0 198.0M996.0 198.0L996.4 209.0M996.4 209.0L996.8 209.0M996.8 209.0L997.2 198.0M997.2 198.0L997.6 198.0M997.6 198.0L998.0 209.0M998.0 209.0L998.4 209.0M998.4 209.0L998.7 198.0M998.7 198.0L999.1 209.0M999.1 209.0L1006.5 209.0M1006.5 209.0L1006.9 219.9M1006.9 219.9L1010.0 219.9M1010.0 219.9L1010.3 230.8M1010.3 230.8L1010.7 219.9M1010.7 219.9L1015.4 219.9M1015.4 219.9L1015.8 230.8M1015.8 230.8L1038.2 230.8M1038.2 230.8L1038.6 241.8M1038.6 241.8L1057.1 241.8M1057.1 241.8L1057.5 252.7M1057.5 252.7L1057.9 230.8M1057.9 230.8L1062.9 230.8M1062.9 230.8L1063.3 219.9M1063.3 219.9L1063.7 219.9M1063.7 219.9L1064.1 230.8M1064.1 230.8L1064.5 230.8M1064.5 230.8L1064.9 219.9M1064.9 219.9L1065.2 219.9M1065.2 219.9L1065.6 230.8M1065.6 230.8L1066.0 230.8M1066.0 230.8L1066.4 219.9M1066.4 219.9L1072.6 219.9M1072.6 219.9L1073.0 209.0M1073.0 209.0L1073.4 209.0M1073.4 209.0L1073.7 219.9M1073.7 219.9L1074.1 219.9M1074.1 219.9L1074.5 209.0M1074.5 209.0L1074.9 209.0M1074.9 209.0L1075.3 219.9M1075.3 219.9L1075.7 219.9M1075.7 219.9L1076.1 209.0M1076.1 209.0L1076.5 209.0M1076.5 209.0L1076.8 219.9M1076.8 219.9L1077.2 219.9M1077.2 219.9L1077.6 209.0M1077.6 209.0L1078.0 209.0M1078.0 209.0L1078.4 219.9M1078.4 219.9L1078.8 219.9M1078.8 219.9L1079.2 209.0M1079.2 209.0L1079.5 209.0M1079.5 209.0L1079.9 219.9M1079.9 219.9L1080.3 219.9M1080.3 219.9L1080.7 209.0M1080.7 209.0L1081.1 209.0M1081.1 209.0L1081.5 219.9M1081.5 219.9L1081.9 219.9M1081.9 219.9L1082.3 209.0M1082.3 209.0L1082.6 209.0M1082.6 209.0L1083.0 219.9M1083.0 219.9L1083.4 219.9M1083.4 219.9L1083.8 209.0M1083.8 209.0L1084.2 209.0M1084.2 209.0L1084.6 219.9M1084.6 219.9L1085.0 219.9M1085.0 219.9L1085.3 209.0M1085.3 209.0L1085.7 209.0M1085.7 209.0L1086.1 219.9M1086.1 219.9L1086.5 219.9M1086.5 219.9L1086.9 209.0M1086.9 209.0L1087.3 209.0M1087.3 209.0L1087.7 219.9M1087.7 219.9L1088.1 219.9M1088.1 219.9L1088.4 209.0M1088.4 209.0L1096.2 209.0M1096.2 209.0L1096.6 198.0M1096.6 198.0L1096.9 198.0M1096.9 198.0L1097.3 209.0M1097.3 209.0L1097.7 209.0M1097.7 209.0L1098.1 198.0M1098.1 198.0L1098.5 198.0M1098.5 198.0L1098.9 209.0M1098.9 209.0L1099.3 209.0M1099.3 209.0L1099.7 198.0M1099.7 198.0L1100.0 198.0M1100.0 198.0L1100.4 209.0M1100.4 209.0L1100.8 209.0M1100.8 209.0L1101.2 198.0M1101.2 198.0L1101.6 198.0M1101.6 198.0L1102.0 209.0M1102.0 209.0L1102.4 209.0M1102.4 209.0L1102.7 198.0M1102.7 198.0L1103.1 198.0M1103.1 198.0L1103.5 209.0M1103.5 209.0L1103.9 198.0M1103.9 198.0L1109.7 198.0M1109.7 198.0L1110.1 187.1M1110.1 187.1L1115.1 187.1M1115.1 187.1L1115.5 176.2M1115.5 176.2L1116.7 176.2M1116.7 176.2L1117.1 187.1M1117.1 187.1L1124.0 187.1M1124.0 187.1L1124.4 198.0M1124.4 198.0L1125.2 198.0M1125.2 198.0L1125.6 187.1M1125.6 187.1L1137.9 187.1M1137.9 187.1L1138.3 176.2M1138.3 176.2L1147.6 176.2M1147.6 176.2L1148.0 165.2M1148.0 165.2L1148.4 165.2M1148.4 165.2L1148.8 176.2M1148.8 176.2L1149.1 176.2M1149.1 176.2L1149.5 165.2M1149.5 165.2L1149.9 165.2M1149.9 165.2L1150.3 176.2M1150.3 176.2L1150.7 176.2M1150.7 176.2L1151.1 165.2M1151.1 165.2L1151.5 165.2M1151.5 165.2L1151.8 176.2M1151.8 176.2L1152.2 176.2M1152.2 176.2L1152.6 165.2M1152.6 165.2L1153.0 165.2M1153.0 165.2L1153.4 176.2M1153.4 176.2L1153.8 176.2M1153.8 176.2L1154.2 165.2M1154.2 165.2L1154.6 165.2M1154.6 165.2L1154.9 176.2M1154.9 176.2L1155.3 176.2M1155.3 176.2L1155.7 165.2M1155.7 165.2L1156.1 165.2M1156.1 165.2L1156.5 176.2M1156.5 176.2L1156.9 176.2M1156.9 176.2L1157.3 165.2M1157.3 165.2L1157.6 165.2M1157.6 165.2L1158.0 176.2M1158.0 176.2L1158.4 176.2M1158.4 176.2L1158.8 165.2M1158.8 165.2L1159.2 165.2M1159.2 165.2L1159.6 176.2M1159.6 176.2L1160.0 176.2M1160.0 176.2L1160.4 165.2M1160.4 165.2L1160.7 165.2M1160.7 165.2L1161.1 176.2M1161.1 176.2L1161.5 176.2M1161.5 176.2L1161.9 165.2M1161.9 165.2L1162.3 165.2M1162.3 165.2L1162.7 176.2M1162.7 176.2L1163.1 176.2M1163.1 176.2L1163.4 165.2M1163.4 165.2L1163.8 165.2M1163.8 165.2L1164.2 176.2M1164.2 176.2L1164.6 176.2M1164.6 176.2L1165.0 165.2M1165.0 165.2L1165.4 165.2M1165.4 165.2L1165.8 176.2M1165.8 176.2L1166.2 176.2M1166.2 176.2L1166.5 165.2M1166.5 165.2L1166.9 165.2M1166.9 165.2L1167.3 176.2M1167.3 176.2L1167.7 176.2M1167.7 176.2L1168.1 165.2M1168.1 165.2L1168.5 165.2M1168.5 165.2L1168.9 176.2M1168.9 176.2L1169.2 176.2M1169.2 176.2L1169.6 165.2M1169.6 165.2L1170.0 165.2M1170.0 165.2L1170.4 176.2M1170.4 176.2L1170.8 176.2M1170.8 176.2L1171.2 165.2M1171.2 165.2L1171.6 165.2M1171.6 165.2L1172.0 176.2M1172.0 176.2L1172.3 176.2M1172.3 176.2L1172.7 165.2M1172.7 165.2L1173.1 165.2M1173.1 165.2L1173.5 176.2"/>
<path class="s" stroke="#55ff55" d="M60.0 99.7L60.8 99.7M60.8 99.7L61.2 88.7M61.2 88.7L76.2 88.7M76.2 88.7L76.6 99.7M76.6 99.7L77.0 88.7M77.0 88.7L83.2 88.7M83.2 88.7L83.6 99.7M83.6 99.7L84.0 99.7M84.0 99.7L84.4 88.7M84.4 88.7L84.7 88.7M84.7 88.7L85.1 99.7M85.1 99.7L85.5 99.7M85.5 99.7L85.9 88.7M85.9 88.7L86.3 88.7M86.3 88.7L86.7 99.7M86.7 99.7L87.1 99.7M87.1 99.7L87.5 88.7M87.5 88.7L87.8 88.7M87.8 88.7L88.2 99.7M88.2 99.7L88.6 99.7M88.6 99.7L89.0 88.7M89.0 88.7L89.4 88.7M89.4 88.7L89.8 99.7M89.8 99.7L107.2 99.7M107.2 99.7L107.6 110.6M107.6 110.6L107.9 110.6M107.9 110.6L108.3 99.7M108.3 99.7L108.7 99.7M108.7 99.7L109.1 110.6M109.1 110.6L109.5 110.6M109.5 110.6L109.9 99.7M109.9 99.7L110.3 99.7M110.3 99.7L110.6 110.6M110.6 110.6L111.0 110.6M111.0 110.6L111.4 99.7M111.4 99.7L111.8 99.7M111.8 99.7L112.2 110.6M112.2 110.6L112.6 110.6M112.6 110.6L113.0 99.7M113.0 99.7L113.4 99.7M113.4 99.7L113.7 110.6M113.7 110.6L114.1 110.6M114.1 110.6L114.5 99.7M114.5 99.7L114.9 110.6M114.9 110.6L147.4 110.6M147.4 110.6L147.8 121.5M147.8 121.5L148.2 121.5M148.2 121.5L148.5 110.6M148.5 110.6L148.9 110.6M148.9 110.6L149.3 121.5M149.3 121.5L149.7 121.5M149.7 121.5L150.1 110.6M150.1 110.6L150.5 110.6M150.5 110.6L150.9 121.5M150.9 121.5L151.2 121.5M151.2 121.5L151.6 110.6M151.6 110.6L152.0 110.6M152.0 110.6L152.4 121.5M152.4 121.5L152.8 121.5M152.8 121.5L153.2 110.6M153.2 110.6L153.6 110.6M153.6 110.6L154.0 121.5M154.0 121.5L154.3 121.5M154.3 121.5L154.7 110.6M154.7 110.6L155.1 110.6M155.1 110.6L155.5 121.5M155.5 121.5L155.9 121.5M155.9 121.5L156.3 110.6M156.3 110.6L156.7 110.6M156.7 110.6L157.0 121.5M157.0 121.5L157.4 121.5M157.4 121.5L157.8 110.6M157.8 110.6L158.2 110.6M158.2 110.6L158.6 121.5M158.6 121.5L159.0 121.5M159.0 121.5L159.4 110.6M159.4 110.6L159.8 121.5M159.8 121.5L196.1 121.5M196.1 121.5L196.5 132.4M196.5 132.4L235.9 132.4M235.9 132.4L236.3 143.4M236.3 143.4L275.0 143.4M275.0 143.4L275.4 154.3M275.4 154.3L275.7 154.3M275.7 154.3L276.1 143.4M276.1 143.4L276.5 143.4M276.5 143.4L276.9 154.3M276.9 154.3L277.3 154.3M277.3 154.3L277.7 143.4M277.7 143.4L278.1 143.4M278.1 143.4L278.4 154.3M278.4 154.3L278.8 154.3M278.8 154.3L279.2 143.4M279.2 143.4L279.6 143.4M279.6 143.4L280.0 154.3M280.0 154.3L299.7 154.3M299.7 154.3L300.1 165.2M300.1 165.2L321.4 165.2M321.4 165.2L321.7 176.2M321.7 176.2L327.9 176.2M327.9 176.2L328.3 165.2M328.3 165.2L328.7 165.2M328.7 165.2L329.1 176.2M329.1 176.2L329.5 176.2M329.5 176.2L329.9 165.2M329.9 165.2L330.3 165.2M330.3 165.2L330.6 176.2M330.6 176.2L331.0 176.2M331.0 176.2L331.4 165.2M331.4 165.2L331.8 165.2M331.8 165.2L332.2 176.2M332.2 176.2L368.5 176.2M368.5 176.2L368.9 187.1M368.9 187.1L369.3 187.1M369.3 187.1L369.7 176.2M369.7 176.2L370.1 176.2M370.1 176.2L370.5 187.1M370.5 187.1L370.9 187.1M370.9 187.1L371.2 176.2M371.2 176.2L371.6 176.2M371.6 176.2L372.0 187.1M372.0 187.1L372.4 187.1M372.4 187.1L372.8 176.2M372.8 176.2L373.2 176.2M373.2 176.2L373.6 187.1M373.6 187.1L373.9 187.1M373.9 187.1L374.3 176.2M374.3 176.2L374.7 176.2M374.7 176.2L375.1 187.1M375.1 187.1L375.5 187.1M375.5 187.1L375.9 176.2M375.9 176.2L376.3 176.2M376.3 176.2L376.7 187.1M376.7 187.1L377.0 187.1M377.0 187.1L377.4 176.2M377.4 176.2L377.8 176.2M377.8 176.2L378.2 187.1M378.2 187.1L378.6 187.1M378.6 187.1L379.0 176.2M379.0 176.2L379.4 176.2M379.4 176.2L379.7 187.1M379.7 187.1L380.1 187.1M380.1 187.1L380.5 176.2M380.5 176.2L394.8 176.2M394.8 176.2L395.2 187.1M395.2 187.1L431.2 187.1M431.2 187.1L431.6 176.2M431.6 176.2L432.7 176.2M432.7 176.2L433.1 187.1M433.1 187.1L437.7 187.1M437.7 187.1L438.1 198.0M438.1 198.0L442.0 198.0M442.0 198.0L442.4 187.1M442.4 187.1L442.8 187.1M442.8 187.1L443.2 198.0M443.2 198.0L443.5 198.0M443.5 198.0L443.9 187.1M443.9 187.1L444.3 187.1M444.3 187.1L444.7 198.0M444.7 198.0L445.1 198.0M445.1 198.0L445.5 187.1M445.5 187.1L445.9 187.1M445.9 187.1L446.2 198.0M446.2 198.0L456.7 198.0M456.7 198.0L457.1 187.1M457.1 187.1L457.5 187.1M457.5 187.1L457.8 198.0M457.8 198.0L467.5 198.0M467.5 198.0L467.9 187.1M467.9 187.1L468.3 187.1M468.3 187.1L468.7 198.0M468.7 198.0L471.0 198.0M471.0 198.0L471.4 209.0M471.4 209.0L475.2 209.0M475.2 209.0L475.6 241.8M475.6 241.8L476.0 241.8M476.0 241.8L476.4 263.6M476.4 263.6L477.2 263.6M477.2 263.6L477.6 285.5M477.6 285.5L477.9 263.6M477.9 263.6L478.7 263.6M478.7 263.6L479.1 241.8M479.1 241.8L479.5 241.8M479.5 241.8L479.9 230.8M479.9 230.8L484.1 230.8M484.1 230.8L484.5 209.0M484.5 209.0L484.9 209.0M484.9 209.0L485.3 230.8M485.3 230.8L485.7 230.8M485.7 230.8L486.1 209.0M486.1 209.0L486.5 209.0M486.5 209.0L486.8 230.8M486.8 230.8L487.2 230.8M487.2 230.8L487.6 209.0M487.6 209.0L494.2 209.0M494.2 209.0L494.6 219.9M494.6 219.9L495.0 219.9M495.0 219.9L495.3 209.0M495.3 209.0L495.7 209.0M495.7 209.0L496.1 219.9M496.1 219.9L496.5 219.9M496.5 219.9L496.9 209.0M496.9 209.0L497.3 209.0M497.3 209.0L497.7 219.9M497.7 219.9L498.1 219.9M498.1 219.9L498.4 209.0M498.4 209.0L498.8 209.0M498.8 209.0L499.2 219.9M499.2 219.9L499.6 219.9M499.6 219.9L500.0 209.0M500.0 209.0L500.4 209.0M500.4 209.0L500.8 219.9M500.8 219.9L501.1 219.9M501.1 219.9L501.5 209.0M501.5 209.0L501.9 209.0M501.9 209.0L502.3 219.9M502.3 219.9L502.7 198.0M502.7 198.0L505.0 198.0M505.0 198.0L505.4 187.1M505.4 187.1L505.8 187.1M505.8 187.1L506.2 198.0M506.2 198.0L506.6 187.1M506.6 187.1L517.0 187.1M517.0 187.1L517.4 176.2M517.4 176.2L517.8 176.2M517.8 176.2L518.2 187.1M518.2 187.1L518.5 187.1M518.5 187.1L518.9 176.2M518.9 176.2L521.3 176.2M521.3 176.2L521.6 165.2M521.6 165.2L522.0 165.2M522.0 165.2L522.4 176.2M522.4 176.2L522.8 165.2M522.8 165.2L527.8 165.2M527.8 165.2L528.2 176.2M528.2 176.2L528.6 176.2M528.6 176.2L529.0 165.2M529.0 165.2L529.4 165.2M529.4 165.2L529.8 176.2M529.8 176.2L530.1 176.2M530.1 176.2L530.5 165.2M530.5 165.2L533.2 165.2M533.2 165.2L533.6 154.3M533.6 154.3L546.0 154.3M546.0 154.3L546.4 165.2M546.4 165.2L546.8 165.2M546.8 165.2L547.2 154.3M547.2 154.3L547.5 154.3M547.5 154.3L547.9 165.2M547.9 165.2L548.3 165.2M548.3 165.2L548.7 154.3M548.7 154.3L549.1 165.2M549.1 165.2L550.6 165.2M550.6 165.2L551.0 209.0M551.0 209.0L551.4 209.0M551.4 209.0L551.8 252.7M551.8 252.7L552.2 252.7M552.2 252.7L552.6 307.3M552.6 307.3L553.0 274.5M553.0 274.5L554.1 274.5M554.1 274.5L554.5 241.8M554.5 241.8L554.9 241.8M554.9 241.8L555.3 219.9M555.3 219.9L556.0 219.9M556.0 219.9L556.4 198.0M556.4 198.0L557.6 198.0M557.6 198.0L558.0 187.1M558.0 187.1L559.5 187.1M559.5 187.1L559.9 176.2M559.9 176.2L560.3 176.2M560.3 176.2L560.7 187.1M560.7 187.1L561.1 187.1M561.1 187.1L561.5 176.2M561.5 176.2L561.8 176.2M561.8 176.2L562.2 187.1M562.2 187.1L562.6 187.1M562.6 187.1L563.0 165.2M563.0 165.2L563.4 165.2M563.4 165.2L563.8 187.1M563.8 187.1L564.2 187.1M564.2 187.1L564.6 165.2M564.6 165.2L564.9 165.2M564.9 165.2L565.3 187.1M565.3 187.1L565.7 187.1M565.7 187.1L566.1 165.2M566.1 165.2L572.7 165.2M572.7 165.2L573.1 176.2M573.1 176.2L573.4 176.2M573.4 176.2L573.8 165.2M573.8 165.2L574.2 165.2M574.2 165.2L574.6 176.2M574.6 176.2L575.0 176.2M575.0 176.2L575.4 154.3M575.4 154.3L575.8 154.3M575.8 154.3L576.2 165.2M576.2 165.2L576.5 165.2M576.5 165.2L576.9 154.3M576.9 154.3L577.3 154.3M577.3 154.3L577.7 165.2M577.7 165.2L578.1 165.2M578.1 165.2L578.5 154.3M578.5 154.3L578.9 154.3M578.9 154.3L579.2 165.2M579.2 165.2L579.6 165.2M579.6 165.2L580.0 154.3M580.0 154.3L580.4 154.3M580.4 154.3L580.8 165.2M580.8 165.2L581.2 165.2M581.2 165.2L581.6 154.3M581.6 154.3L582.0 154.3M582.0 154.3L582.3 165.2M582.3 165.2L582.7 165.2M582.7 165.2L583.1 154.3M583.1 154.3L583.5 154.3M583.5 154.3L583.9 165.2M583.9 165.2L584.3 165.2M584.3 165.2L584.7 154.3M584.7 154.3L585.0 154.3M585.0 154.3L585.4 165.2M585.4 165.2L585.8 154.3M585.8 154.3L588.5 154.3M588.5 154.3L588.9 187.1M588.9 187.1L589.7 187.1M589.7 187.1L590.1 230.8M590.1 230.8L590.5 209.0M590.5 209.0L591.2 209.0M591.2 209.0L591.6 187.1M591.6 187.1L592.4 187.1M592.4 187.1L592.8 165.2M592.8 165.2L595.9 165.2M595.9 165.2L596.3 154.3M596.3 154.3L596.6 154.3M596.6 154.3L597.0 165.2M597.0 165.2L597.4 165.2M597.4 165.2L597.8 154.3M597.8 154.3L598.2 154.3M598.2 154.3L598.6 165.2M598.6 165.2L599.0 165.2M599.0 165.2L599.4 154.3M599.4 154.3L599.7 154.3M599.7 154.3L600.1 165.2M600.1 165.2L600.5 165.2M600.5 165.2L600.9 154.3M600.9 154.3L601.3 154.3M601.3 154.3L601.7 165.2M601.7 165.2L602.1 165.2M602.1 165.2L602.4 154.3M602.4 154.3L602.8 154.3M602.8 154.3L603.2 165.2M603.2 165.2L603.6 165.2M603.6 165.2L604.0 154.3M604.0 154.3L604.4 154.3M604.4 154.3L604.8 165.2M604.8 165.2L605.2 165.2M605.2 165.2L605.5 154.3M605.5 154.3L605.9 154.3M605.9 154.3L606.3 165.2M606.3 165.2L606.7 165.2M606.7 165.2L607.1 154.3M607.1 154.3L607.5 154.3M607.5 154.3L607.9 165.2M607.9 165.2L608.2 165.2M608.2 165.2L608.6 154.3M608.6 154.3L609.0 154.3M609.0 154.3L609.4 165.2M609.4 165.2L609.8 165.2M609.8 165.2L610.2 154.3M610.2 154.3L610.6 154.3M610.6 154.3L611.0 165.2M611.0 165.2L611.3 143.4M611.3 143.4L611.7 143.4M611.7 143.4L612.1 154.3M612.1 154.3L612.5 154.3M612.5 154.3L612.9 143.4M612.9 143.4L613.3 143.4M613.3 143.4L613.7 154.3M613.7 154.3L614.0 154.3M614.0 154.3L614.4 143.4M614.4 143.4L614.8 143.4M614.8 143.4L615.2 154.3M615.2 154.3L615.6 154.3M615.6 154.3L616.0 143.4M616.0 143.4L616.4 143.4M616.4 143.4L616.8 154.3M616.8 154.3L617.1 154.3M617.1 154.3L617.5 143.4M617.5 143.4L617.9 143.4M617.9 143.4L618.3 154.3M618.3 154.3L618.7 154.3M618.7 154.3L619.1 143.4M619.1 143.4L619.5 143.4M619.5 143.4L619.8 154.3M619.8 154.3L620.2 154.3M620.2 154.3L620.6 143.4M620.6 143.4L621.0 143.4M621.0 143.4L621.4 154.3M621.4 154.3L621.8 154.3M621.8 154.3L622.2 143.4M622.2 143.4L622.5 143.4M622.5 143.4L622.9 154.3M622.9 154.3L623.3 154.3M623.3 154.3L623.7 143.4M623.7 143.4L624.1 143.4M624.1 143.4L624.5 154.3M624.5 154.3L624.9 154.3M624.9 154.3L625.3 143.4M625.3 143.4L625.6 143.4M625.6 143.4L626.0 154.3M626.0 154.3L626.4 143.4M626.4 143.4L629.9 143.4M629.9 143.4L630.3 154.3M630.3 154.3L630.7 143.4M630.7 143.4L634.9 143.4M634.9 143.4L635.3 132.4M635.3 132.4L635.7 143.4M635.7 143.4L645.0 143.4M645.0 143.4L645.4 132.4M645.4 132.4L645.7 132.4M645.7 132.4L646.1 143.4M646.1 143.4L646.5 143.4M646.5 143.4L646.9 132.4M646.9 132.4L647.3 132.4M647.3 132.4L647.7 143.4M647.7 143.4L648.1 143.4M648.1 143.4L648.5 132.4M648.5 132.4L648.8 132.4M648.8 132.4L649.2 143.4M649.2 143.4L649.6 143.4M649.6 143.4L650.0 132.4M650.0 132.4L650.4 132.4M650.4 132.4L650.8 143.4M650.8 143.4L651.2 143.4M651.2 143.4L651.5 132.4M651.5 132.4L651.9 132.4M651.9 132.4L652.3 143.4M652.3 143.4L652.7 143.4M652.7 143.4L653.1 132.4M653.1 132.4L653.5 132.4M653.5 132.4L653.9 143.4M653.9 143.4L654.3 143.4M654.3 143.4L654.6 132.4M654.6 132.4L655.0 132.4M655.0 132.4L655.4 143.4M655.4 143.4L655.8 143.4M655.8 143.4L656.2 132.4M656.2 132.4L656.6 143.4M656.6 143.4L666.2 143.4M666.2 143.4L666.6 132.4M666.6 132.4L667.0 132.4M667.0 132.4L667.4 143.4M667.4 143.4L673.6 143.4M673.6 143.4L674.0 154.3M674.0 154.3L674.4 154.3M674.4 154.3L674.7 143.4M674.7 143.4L680.9 143.4M680.9 143.4L681.3 132.4M681.3 132.4L681.7 132.4M681.7 132.4L682.1 143.4M682.1 143.4L682.5 143.4M682.5 143.4L682.9 132.4M682.9 132.4L683.3 132.4M683.3 132.4L683.6 143.4M683.6 143.4L684.0 143.4M684.0 143.4L684.4 132.4M684.4 132.4L684.8 132.4M684.8 132.4L685.2 143.4M685.2 143.4L685.6 143.4M685.6 143.4L686.0 132.4M686.0 132.4L686.3 132.4M686.3 132.4L686.7 143.4M686.7 143.4L687.1 143.4M687.1 143.4L687.5 132.4M687.5 132.4L687.9 132.4M687.9 132.4L688.3 143.4M688.3 143.4L688.7 143.4M688.7 143.4L689.1 132.4M689.1 132.4L689.4 132.4M689.4 132.4L689.8 143.4M689.8 143.4L699.1 143.4M699.1 143.4L699.5 154.3M699.5 154.3L699.9 154.3M699.9 154.3L700.3 143.4M700.3 143.4L700.6 143.4M700.6 143.4L701.0 154.3M701.0 154.3L701.4 154.3M701.4 154.3L701.8 143.4M701.8 143.4L702.2 143.4M702.2 143.4L702.6 154.3M702.6 154.3L703.0 154.3M703.0 154.3L703.4 143.4M703.4 143.4L703.7 143.4M703.7 143.4L704.1 154.3M704.1 154.3L704.5 154.3M704.5 154.3L704.9 143.4M704.9 143.4L705.3 143.4M705.3 143.4L705.7 154.3M705.7 154.3L712.6 154.3M712.6 154.3L713.0 143.4M713.0 143.4L713.4 143.4M713.4 143.4L713.8 154.3M713.8 154.3L714.2 154.3M714.2 154.3L714.6 143.4M714.6 143.4L715.0 143.4M715.0 143.4L715.3 154.3M715.3 154.3L715.7 154.3M715.7 154.3L716.1 143.4M716.1 143.4L721.5 143.4M721.5 143.4L721.9 154.3M721.9 154.3L737.8 154.3M737.8 154.3L738.2 165.2M738.2 165.2L738.5 165.2M738.5 165.2L738.9 154.3M738.9 154.3L743.2 154.3M743.2 154.3L743.6 165.2M743.6 165.2L765.2 165.2M765.2 165.2L765.6 154.3M765.6 154.3L766.0 154.3M766.0 154.3L766.4 165.2M766.4 165.2L766.8 165.2M766.8 165.2L767.1 154.3M767.1 154.3L767.5 154.3M767.5 154.3L767.9 165.2M767.9 165.2L774.9 165.2M774.9 165.2L775.3 154.3M775.3 154.3L775.7 154.3M775.7 154.3L776.0 165.2M776.0 165.2L791.1 165.2M791.1 165.2L791.5 154.3M791.5 154.3L791.9 165.2M791.9 165.2L811.2 165.2M811.2 165.2L811.6 154.3M811.6 154.3L812.0 154.3M812.0 154.3L812.4 165.2M812.4 165.2L816.6 165.2M816.6 165.2L817.0 176.2M817.0 176.2L817.4 165.2M817.4 165.2L827.1 165.2M827.1 165.2L827.5 154.3M827.5 154.3L827.9 154.3M827.9 154.3L828.2 165.2M828.2 165.2L828.6 165.2M828.6 165.2L829.0 154.3M829.0 154.3L829.4 154.3M829.4 154.3L829.8 165.2M829.8 165.2L839.1 165.2M839.1 165.2L839.4 154.3M839.4 154.3L839.8 154.3M839.8 154.3L840.2 165.2M840.2 165.2L840.6 165.2M840.6 165.2L841.0 154.3M841.0 154.3L841.4 154.3M841.4 154.3L841.8 165.2M841.8 165.2L842.2 165.2M842.2 165.2L842.5 154.3M842.5 154.3L842.9 154.3M842.9 154.3L843.3 165.2M843.3 165.2L843.7 165.2M843.7 165.2L844.1 154.3M844.1 154.3L844.5 154.3M844.5 154.3L844.9 165.2M844.9 165.2L845.2 165.2M845.2 165.2L845.6 154.3M845.6 154.3L846.0 154.3M846.0 154.3L846.4 165.2M846.4 165.2L846.8 165.2M846.8 165.2L847.2 154.3M847.2 154.3L847.6 154.3M847.6 154.3L848.0 165.2M848.0 165.2L848.3 165.2M848.3 165.2L848.7 154.3M848.7 154.3L849.1 154.3M849.1 154.3L849.5 165.2M849.5 165.2L865.0 165.2M865.0 165.2L865.4 154.3M865.4 154.3L876.2 154.3M876.2 154.3L876.6 165.2M876.6 165.2L877.0 165.2M877.0 165.2L877.3 154.3M877.3 154.3L877.7 154.3M877.7 154.3L878.1 165.2M878.1 165.2L878.5 165.2M878.5 165.2L878.9 154.3M878.9 154.3L879.3 154.3M879.3 154.3L879.7 165.2M879.7 165.2L880.0 165.2M880.0 165.2L880.4 154.3M880.4 154.3L880.8 154.3M880.8 154.3L881.2 165.2M881.2 165.2L888.9 165.2M888.9 165.2L889.3 154.3M889.3 154.3L890.1 154.3M890.1 154.3L890.5 165.2M890.5 165.2L895.1 165.2M895.1 165.2L895.5 154.3M895.5 154.3L895.9 154.3M895.9 154.3L896.3 165.2M896.3 165.2L896.7 165.2M896.7 165.2L897.1 154.3M897.1 154.3L897.4 154.3M897.4 154.3L897.8 165.2M897.8 165.2L898.2 165.2M898.2 165.2L898.6 154.3M898.6 154.3L899.0 154.3M899.0 154.3L899.4 165.2M899.4 165.2L904.0 165.2M904.0 165.2L904.4 176.2M904.4 176.2L905.2 176.2M905.2 176.2L905.6 165.2M905.6 165.2L912.1 165.2M912.1 165.2L912.5 154.3M912.5 154.3L912.9 154.3M912.9 154.3L913.3 165.2M913.3 165.2L918.7 165.2M918.7 165.2L919.1 154.3M919.1 154.3L921.0 154.3M921.0 154.3L921.4 143.4M921.4 143.4L921.8 143.4M921.8 143.4L922.2 154.3M922.2 154.3L930.7 154.3M930.7 154.3L931.1 143.4M931.1 143.4L931.5 143.4M931.5 143.4L931.9 154.3M931.9 154.3L932.2 154.3M932.2 154.3L932.6 143.4M932.6 143.4L933.0 143.4M933.0 143.4L933.4 154.3M933.4 154.3L933.8 154.3M933.8 154.3L934.2 143.4M934.2 143.4L934.6 143.4M934.6 143.4L934.9 154.3M934.9 154.3L953.5 154.3M953.5 154.3L953.9 165.2M953.9 165.2L954.3 165.2M954.3 165.2L954.7 154.3M954.7 154.3L974.0 154.3M974.0 154.3L974.4 143.4M974.4 143.4L974.8 143.4M974.8 143.4L975.2 154.3M975.2 154.3L975.5 154.3M975.5 154.3L975.9 143.4M975.9 143.4L976.3 143.4M976.3 143.4L976.7 154.3M976.7 154.3L977.1 154.3M977.1 154.3L977.5 143.4M977.5 143.4L977.9 143.4M977.9 143.4L978.3 154.3M978.3 154.3L978.6 154.3M978.6 154.3L979.0 143.4M979.0 143.4L979.4 143.4M979.4 143.4L979.8 154.3M979.8 154.3L980.2 154.3M980.2 154.3L980.6 143.4M980.6 143.4L981.0 143.4M981.0 143.4L981.3 154.3M981.3 154.3L981.7 154.3M981.7 154.3L982.1 143.4M982.1 143.4L982.5 143.4M982.5 143.4L982.9 154.3M982.9 154.3L983.3 154.3M983.3 154.3L983.7 143.4M983.7 143.4L984.1 143.4M984.1 143.4L984.4 154.3M984.4 154.3L989.8 154.3M989.8 154.3L990.2 165.2M990.2 165.2L994.9 165.2M994.9 165.2L995.3 187.1M995.3 187.1L995.6 176.2M995.6 176.2L999.5 176.2M999.5 176.2L999.9 187.1M999.9 187.1L1002.6 187.1M1002.6 187.1L1003.0 176.2M1003.0 176.2L1004.9 176.2M1004.9 176.2L1005.3 187.1M1005.3 187.1L1007.6 187.1M1007.6 187.1L1008.0 198.0M1008.0 198.0L1016.5 198.0M1016.5 198.0L1016.9 209.0M1016.9 209.0L1018.8 209.0M1018.8 209.0L1019.2 198.0M1019.2 198.0L1019.6 209.0M1019.6 209.0L1023.9 209.0M1023.9 209.0L1024.3 198.0M1024.3 198.0L1024.6 209.0M1024.6 209.0L1028.9 209.0M1028.9 209.0L1029.3 198.0M1029.3 198.0L1029.7 209.0M1029.7 209.0L1033.9 209.0M1033.9 209.0L1034.3 198.0M1034.3 198.0L1034.7 209.0M1034.7 209.0L1039.0 209.0M1039.0 209.0L1039.3 198.0M1039.3 198.0L1039.7 209.0M1039.7 209.0L1044.0 209.0M1044.0 209.0L1044.4 219.9M1044.4 219.9L1044.8 219.9M1044.8 219.9L1045.1 209.0M1045.1 209.0L1045.5 209.0M1045.5 209.0L1045.9 219.9M1045.9 219.9L1046.3 219.9M1046.3 219.9L1046.7 209.0M1046.7 209.0L1047.1 209.0M1047.1 209.0L1047.5 219.9M1047.5 219.9L1047.8 219.9M1047.8 219.9L1048.2 209.0M1048.2 209.0L1048.6 209.0M1048.6 209.0L1049.0 219.9M1049.0 219.9L1049.4 219.9M1049.4 219.9L1049.8 209.0M1049.8 209.0L1050.2 209.0M1050.2 209.0L1050.6 219.9M1050.6 219.9L1050.9 219.9M1050.9 219.9L1051.3 209.0M1051.3 209.0L1051.7 209.0M1051.7 209.0L1052.1 219.9M1052.1 219.9L1052.5 219.9M1052.5 219.9L1052.9 209.0M1052.9 209.0L1053.3 209.0M1053.3 209.0L1053.6 219.9M1053.6 219.9L1054.0 219.9M1054.0 219.9L1054.4 209.0M1054.4 209.0L1054.8 209.0M1054.8 209.0L1055.2 219.9M1055.2 219.9L1055.6 219.9M1055.6 219.9L1056.0 209.0M1056.0 209.0L1056.4 209.0M1056.4 209.0L1056.7 230.8M1056.7 230.8L1058.7 230.8M1058.7 230.8L1059.1 209.0M1059.1 209.0L1059.4 209.0M1059.4 209.0L1059.8 219.9M1059.8 219.9L1060.2 219.9M1060.2 219.9L1060.6 209.0M1060.6 209.0L1061.0 209.0M1061.0 209.0L1061.4 219.9M1061.4 219.9L1061.8 219.9M1061.8 219.9L1062.2 209.0M1062.2 209.0L1062.5 209.0M1062.5 209.0L1062.9 219.9M1062.9 219.9L1063.3 219.9M1063.3 219.9L1063.7 209.0M1063.7 209.0L1064.1 209.0M1064.1 209.0L1064.5 219.9M1064.5 219.9L1064.9 219.9M1064.9 219.9L1065.2 209.0M1065.2 209.0L1065.6 209.0M1065.6 209.0L1066.0 219.9M1066.0 219.9L1066.4 219.9M1066.4 219.9L1066.8 209.0M1066.8 209.0L1067.2 209.0M1067.2 209.0L1067.6 219.9M1067.6 219.9L1067.9 219.9M1067.9 219.9L1068.3 198.0M1068.3 198.0L1068.7 198.0M1068.7 198.0L1069.1 209.0M1069.1 209.0L1069.5 209.0M1069.5 209.0L1069.9 198.0M1069.9 198.0L1070.3 198.0M1070.3 198.0L1070.7 209.0M1070.7 209.0L1071.0 209.0M1071.0 209.0L1071.4 198.0M1071.4 198.0L1071.8 198.0M1071.8 198.0L1072.2 209.0M1072.2 209.0L1072.6 209.0M1072.6 209.0L1073.0 198.0M1073.0 198.0L1073.4 198.0M1073.4 198.0L1073.7 209.0M1073.7 209.0L1074.1 209.0M1074.1 209.0L1074.5 198.0M1074.5 198.0L1074.9 198.0M1074.9 198.0L1075.3 187.1M1075.3 187.1L1075.7 187.1M1075.7 187.1L1076.1 198.0M1076.1 198.0L1076.5 198.0M1076.5 198.0L1076.8 187.1M1076.8 187.1L1077.2 187.1M1077.2 187.1L1077.6 198.0M1077.6 198.0L1078.0 198.0M1078.0 198.0L1078.4 187.1M1078.4 187.1L1078.8 187.1M1078.8 187.1L1079.2 198.0M1079.2 198.0L1079.5 198.0M1079.5 198.0L1079.9 187.1M1079.9 187.1L1080.3 187.1M1080.3 187.1L1080.7 198.0M1080.7 198.0L1081.1 198.0M1081.1 198.0L1081.5 187.1M1081.5 187.1L1092.7 187.1M1092.7 187.1L1093.1 198.0M1093.1 198.0L1093.5 198.0M1093.5 198.0L1093.9 187.1M1093.9 187.1L1094.2 187.1M1094.2 187.1L1094.6 198.0M1094.6 198.0L1095.0 198.0M1095.0 198.0L1095.4 187.1M1095.4 187.1L1095.8 187.1M1095.8 187.1L1096.2 198.0M1096.2 198.0L1096.6 198.0M1096.6 198.0L1096.9 187.1M1096.9 187.1L1097.3 187.1M1097.3 187.1L1097.7 176.2M1097.7 176.2L1098.1 176.2M1098.1 176.2L1098.5 187.1M1098.5 187.1L1098.9 187.1M1098.9 187.1L1099.3 176.2M1099.3 176.2L1099.7 176.2M1099.7 176.2L1100.0 187.1M1100.0 187.1L1100.4 187.1M1100.4 187.1L1100.8 176.2M1100.8 176.2L1101.2 176.2M1101.2 176.2L1101.6 187.1M1101.6 187.1L1102.0 187.1M1102.0 187.1L1102.4 176.2M1102.4 176.2L1102.7 176.2M1102.7 176.2L1103.1 187.1M1103.1 187.1L1103.5 187.1M1103.5 187.1L1103.9 176.2M1103.9 176.2L1104.3 176.2M1104.3 176.2L1104.7 187.1M1104.7 187.1L1105.1 187.1M1105.1 187.1L1105.5 176.2M1105.5 176.2L1105.8 176.2M1105.8 176.2L1106.2 187.1M1106.2 187.1L1106.6 187.1M1106.6 187.1L1107.0 176.2M1107.0 176.2L1107.4 176.2M1107.4 176.2L1107.8 187.1M1107.8 187.1L1108.2 165.2M1108.2 165.2L1108.5 165.2M1108.5 165.2L1108.9 176.2M1108.9 176.2L1109.3 176.2M1109.3 176.2L1109.7 165.2M1109.7 165.2L1110.1 165.2M1110.1 165.2L1110.5 176.2M1110.5 176.2L1110.9 176.2M1110.9 176.2L1111.3 165.2M1111.3 165.2L1111.6 165.2M1111.6 165.2L1112.0 176.2M1112.0 176.2L1112.4 176.2M1112.4 176.2L1112.8 165.2M1112.8 165.2L1113.2 165.2M1113.2 165.2L1113.6 176.2M1113.6 176.2L1114.0 176.2M1114.0 176.2L1114.3 165.2M1114.3 165.2L1114.7 165.2M1114.7 165.2L1115.1 176.2M1115.1 176.2L1115.5 176.2M1115.5 176.2L1115.9 165.2M1115.9 165.2L1116.3 154.3M1116.3 154.3L1119.0 154.3M1119.0 154.3L1119.4 165.2M1119.4 165.2L1119.8 165.2M1119.8 165.2L1120.1 176.2M1120.1 176.2L1125.9 176.2M1125.9 176.2L1126.3 198.0M1126.3 198.0L1129.8 198.0M1129.8 198.0L1130.2 176.2M1130.2 176.2L1130.6 176.2M1130.6 176.2L1131.0 187.1M1131.0 187.1L1131.4 187.1M1131.4 187.1L1131.7 176.2M1131.7 176.2L1132.1 176.2M1132.1 176.2L1132.5 187.1M1132.5 187.1L1132.9 187.1M1132.9 187.1L1133.3 176.2M1133.3 176.2L1133.7 176.2M1133.7 176.2L1134.1 187.1M1134.1 187.1L1134.5 187.1M1134.5 187.1L1134.8 176.2M1134.8 176.2L1135.2 176.2M1135.2 176.2L1135.6 187.1M1135.6 187.1L1136.0 187.1M1136.0 187.1L1136.4 176.2M1136.4 176.2L1136.8 176.2M1136.8 176.2L1137.2 187.1M1137.2 187.1L1137.5 187.1M1137.5 187.1L1137.9 176.2M1137.9 176.2L1138.3 165.2M1138.3 165.2L1141.0 165.2M1141.0 165.2L1141.4 176.2M1141.4 176.2L1141.8 176.2M1141.8 176.2L1142.2 165.2M1142.2 165.2L1142.6 165.2M1142.6 165.2L1143.0 176.2M1143.0 176.2L1143.3 176.2M1143.3 176.2L1143.7 165.2M1143.7 165.2L1144.1 165.2M1144.1 165.2L1144.5 176.2M1144.5 176.2L1144.9 176.2M1144.9 176.2L1145.3 165.2M1145.3 165.2L1145.7 165.2M1145.7 165.2L1146.0 176.2M1146.0 176.2L1146.4 176.2M1146.4 176.2L1146.8 154.3M1146.8 154.3L1149.1 154.3M1149.1 154.3L1149.5 165.2M1149.5 165.2L1149.9 154.3M1149.9 154.3L1154.9 154.3M1154.9 154.3L1155.3 165.2M1155.3 165.2L1155.7 154.3M1155.7 154.3L1158.8 154.3M1158.8 154.3L1159.2 143.4M1159.2 143.4L1159.6 143.4M1159.6 143.4L1160.0 154.3M1160.0 154.3L1160.4 154.3M1160.4 154.3L1160.7 143.4M1160.7 143.4L1161.1 143.4M1161.1 143.4L1161.5 154.3M1161.5 154.3L1161.9 154.3M1161.9 154.3L1162.3 143.4M1162.3 143.4L1162.7 143.4M1162.7 143.4L1163.1 154.3M1163.1 154.3L1163.4 154.3M1163.4 154.3L1163.8 143.4M1163.8 143.4L1164.2 143.4M1164.2 143.4L1164.6 154.3M1164.6 154.3L1165.0 154.3M1165.0 154.3L1165.4 143.4M1165.4 143.4L1165.8 143.4M1165.8 143.4L1166.2 154.3M1166.2 154.3L1166.5 154.3M1166.5 154.3L1166.9 143.4M1166.9 143.4L1167.3 143.4M1167.3 143.4L1167.7 154.3M1167.7 154.3L1168.1 154.3M1168.1 154.3L1168.5 143.4M1168.5 143.4L1168.9 143.4M1168.9 143.4L1169.2 165.2M1169.2 165.2L1169.6 165.2M1169.6 165.2L1170.0 143.4M1170.0 143.4L1170.4 143.4M1170.4 143.4L1170.8 165.2M1170.8 165.2L1173.5 165.2"/>
<path class="s" stroke="#5555ff" d="M60.0 110.6L60.4 110.6M60.4 110.6L60.8 121.5M60.8 121.5L61.2 121.5M61.2 121.5L61.5 110.6M61.5 110.6L61.9 110.6M61.9 110.6L62.3 121.5M62.3 121.5L62.7 121.5M62.7 121.5L63.1 110.6M63.1 110.6L63.5 110.6M63.5 110.6L63.9 121.5M63.9 121.5L64.3 121.5M64.3 121.5L64.6 110.6M64.6 110.6L65.0 110.6M65.0 110.6L65.4 121.5M65.4 121.5L65.8 121.5M65.8 121.5L66.2 110.6M66.2 110.6L66.6 110.6M66.6 110.6L67.0 121.5M67.0 121.5L67.3 121.5M67.3 121.5L67.7 110.6M67.7 110.6L68.1 110.6M68.1 110.6L68.5 121.5M68.5 121.5L68.9 121.5M68.9 121.5L69.3 110.6M69.3 110.6L69.7 110.6M69.7 110.6L70.1 121.5M70.1 121.5L70.4 121.5M70.4 121.5L70.8 110.6M70.8 110.6L80.9 110.6M80.9 110.6L81.3 99.7M81.3 99.7L81.7 99.7M81.7 99.7L82.0 110.6M82.0 110.6L82.4 110.6M82.4 110.6L82.8 99.7M82.8 99.7L83.2 99.7M83.2 99.7L83.6 110.6M83.6 110.6L84.0 110.6M84.0 110.6L84.4 99.7M84.4 99.7L84.7 99.7M84.7 99.7L85.1 110.6M85.1 110.6L114.9 110.6M114.9 110.6L115.3 121.5M115.3 121.5L115.7 121.5M115.7 121.5L116.1 110.6M116.1 110.6L116.4 110.6M116.4 110.6L116.8 121.5M116.8 121.5L117.2 121.5M117.2 121.5L117.6 110.6M117.6 110.6L118.0 110.6M118.0 110.6L118.4 121.5M118.4 121.5L118.8 110.6M118.8 110.6L126.1 110.6M126.1 110.6L126.5 121.5M126.5 121.5L131.5 121.5M131.5 121.5L131.9 110.6M131.9 110.6L135.0 110.6M135.0 110.6L135.4 121.5M135.4 121.5L176.0 121.5M176.0 121.5L176.4 132.4M176.4 132.4L176.8 132.4M176.8 132.4L177.1 121.5M177.1 121.5L177.5 121.5M177.5 121.5L177.9 132.4M177.9 132.4L178.3 132.4M178.3 132.4L178.7 121.5M178.7 121.5L179.1 121.5M179.1 121.5L179.5 132.4M179.5 132.4L179.9 132.4M179.9 132.4L180.2 121.5M180.2 121.5L180.6 121.5M180.6 121.5L181.0 132.4M181.0 132.4L181.4 132.4M181.4 132.4L181.8 121.5M181.8 121.5L182.2 121.5M182.2 121.5L182.6 132.4M182.6 132.4L182.9 132.4M182.9 132.4L183.3 121.5M183.3 121.5L183.7 121.5M183.7 121.5L184.1 132.4M184.1 132.4L184.5 132.4M184.5 132.4L184.9 121.5M184.9 121.5L185.3 121.5M185.3 121.5L185.7 132.4M185.7 132.4L186.0 132.4M186.0 132.4L186.4 121.5M186.4 121.5L186.8 121.5M186.8 121.5L187.2 132.4M187.2 132.4L187.6 132.4M187.6 132.4L188.0 121.5M188.0 121.5L188.4 121.5M188.4 121.5L188.7 132.4M188.7 132.4L189.1 132.4M189.1 132.4L189.5 121.5M189.5 121.5L189.9 121.5M189.9 121.5L190.3 132.4M190.3 132.4L190.7 132.4M190.7 132.4L191.1 121.5M191.1 121.5L191.5 121.5M191.5 121.5L191.8 132.4M191.8 132.4L192.2 132.4M192.2 132.4L192.6 121.5M192.6 121.5L193.0 121.5M193.0 121.5L193.4 132.4M193.4 132.4L200.0 132.4M200.0 132.4L200.3 121.5M200.3 121.5L201.1 121.5M201.1 121.5L201.5 132.4M201.5 132.4L217.0 132.4M217.0 132.4L217.4 143.4M217.4 143.4L217.7 143.4M217.7 143.4L218.1 132.4M218.1 132.4L218.5 132.4M218.5 132.4L218.9 143.4M218.9 143.4L219.3 143.4M219.3 143.4L219.7 132.4M219.7 132.4L220.1 132.4M220.1 132.4L220.5 143.4M220.5 143.4L220.8 143.4M220.8 143.4L221.2 132.4M221.2 132.4L221.6 132.4M221.6 132.4L222.0 143.4M222.0 143.4L222.4 132.4M222.4 132.4L228.2 132.4M228.2 132.4L228.6 143.4M228.6 143.4L229.0 143.4M229.0 143.4L229.3 132.4M229.3 132.4L229.7 132.4M229.7 132.4L230.1 143.4M230.1 143.4L230.5 143.4M230.5 143.4L230.9 132.4M230.9 132.4L239.0 132.4M239.0 132.4L239.4 143.4M239.4 143.4L239.8 143.4M239.8 143.4L240.2 132.4M240.2 132.4L240.6 132.4M240.6 132.4L240.9 143.4M240.9 143.4L241.3 143.4M241.3 143.4L241.7 132.4M241.7 132.4L242.1 132.4M242.1 132.4L242.5 143.4M242.5 143.4L242.9 143.4M242.9 143.4L243.3 132.4M243.3 132.4L243.7 132.4M243.7 132.4L244.0 143.4M244.0 143.4L256.0 143.4M256.0 143.4L256.4 154.3M256.4 154.3L256.8 154.3M256.8 154.3L257.2 143.4M257.2 143.4L257.6 143.4M257.6 143.4L258.0 154.3M258.0 154.3L258.3 154.3M258.3 154.3L258.7 143.4M258.7 143.4L259.1 143.4M259.1 143.4L259.5 154.3M259.5 154.3L259.9 154.3M259.9 154.3L260.3 143.4M260.3 143.4L264.5 143.4M264.5 143.4L264.9 154.3M264.9 154.3L265.3 154.3M265.3 154.3L265.7 143.4M265.7 143.4L266.1 143.4M266.1 143.4L266.5 154.3M266.5 154.3L266.8 154.3M266.8 154.3L267.2 143.4M267.2 143.4L270.7 143.4M270.7 143.4L271.1 154.3M271.1 154.3L271.5 154.3M271.5 154.3L271.9 143.4M271.9 143.4L273.0 143.4M273.0 143.4L273.4 154.3M273.4 154.3L293.1 154.3M293.1 154.3L293.5 165.2M293.5 165.2L293.9 165.2M293.9 165.2L294.3 154.3M294.3 154.3L294.7 154.3M294.7 154.3L295.1 165.2M295.1 165.2L295.5 165.2M295.5 165.2L295.8 154.3M295.8 154.3L296.2 154.3M296.2 154.3L296.6 165.2M296.6 165.2L297.0 165.2M297.0 165.2L297.4 154.3M297.4 154.3L297.8 154.3M297.8 154.3L298.2 165.2M298.2 165.2L298.6 165.2M298.6 165.2L298.9 154.3M298.9 154.3L299.3 154.3M299.3 154.3L299.7 165.2M299.7 165.2L319.0 165.2M319.0 165.2L319.4 176.2M319.4 176.2L319.8 176.2M319.8 176.2L320.2 165.2M320.2 165.2L320.6 176.2M320.6 176.2L346.9 176.2M346.9 176.2L347.3 187.1M347.3 187.1L347.7 187.1M347.7 187.1L348.0 176.2M348.0 176.2L348.4 176.2M348.4 176.2L348.8 187.1M348.8 187.1L349.2 187.1M349.2 187.1L349.6 176.2M349.6 176.2L350.0 176.2M350.0 176.2L350.4 187.1M350.4 187.1L350.7 187.1M350.7 187.1L351.1 176.2M351.1 176.2L351.5 176.2M351.5 176.2L351.9 187.1M351.9 187.1L352.3 187.1M352.3 187.1L352.7 176.2M352.7 176.2L356.9 176.2M356.9 176.2L357.3 187.1M357.3 187.1L357.7 187.1M357.7 187.1L358.1 176.2M358.1 176.2L358.5 176.2M358.5 176.2L358.9 187.1M358.9 187.1L359.3 187.1M359.3 187.1L359.6 176.2M359.6 176.2L360.0 176.2M360.0 176.2L360.4 187.1M360.4 187.1L360.8 187.1M360.8 187.1L361.2 176.2M361.2 176.2L364.7 176.2M364.7 176.2L365.1 187.1M365.1 187.1L365.4 187.1M365.4 187.1L365.8 176.2M365.8 176.2L385.9 176.2M385.9 176.2L386.3 187.1M386.3 187.1L386.7 187.1M386.7 187.1L387.1 176.2M387.1 176.2L387.5 176.2M387.5 176.2L387.9 187.1M387.9 187.1L388.3 187.1M388.3 187.1L388.6 176.2M388.6 176.2L394.8 176.2M394.8 176.2L395.2 187.1M395.2 187.1L397.9 187.1M397.9 187.1L398.3 198.0M398.3 198.0L398.7 198.0M398.7 198.0L399.1 187.1M399.1 187.1L399.5 187.1M399.5 187.1L399.8 198.0M399.8 198.0L400.2 198.0M400.2 198.0L400.6 187.1M400.6 187.1L401.0 187.1M401.0 187.1L401.4 198.0M401.4 198.0L401.8 198.0M401.8 198.0L402.2 187.1M402.2 187.1L402.6 187.1M402.6 187.1L402.9 198.0M402.9 198.0L403.3 198.0M403.3 198.0L403.7 187.1M403.7 187.1L404.1 187.1M404.1 187.1L404.5 198.0M404.5 198.0L404.9 198.0M404.9 198.0L405.3 187.1M405.3 187.1L405.6 187.1M405.6 187.1L406.0 198.0M406.0 198.0L406.4 198.0M406.4 198.0L406.8 187.1M406.8 187.1L407.2 187.1M407.2 187.1L407.6 198.0M407.6 198.0L408.0 198.0M408.0 198.0L408.4 187.1M408.4 187.1L408.7 187.1M408.7 187.1L409.1 198.0M409.1 198.0L409.5 198.0M409.5 198.0L409.9 187.1M409.9 187.1L410.3 187.1M410.3 187.1L410.7 198.0M410.7 198.0L411.1 198.0M411.1 198.0L411.4 187.1M411.4 187.1L411.8 187.1M411.8 187.1L412.2 198.0M412.2 198.0L412.6 198.0M412.6 198.0L413.0 187.1M413.0 187.1L438.1 187.1M438.1 187.1L438.5 198.0M438.5 198.0L460.2 198.0M460.2 198.0L460.6 187.1M460.6 187.1L460.9 187.1M460.9 187.1L461.3 198.0M461.3 198.0L461.7 198.0M461.7 198.0L462.1 187.1M462.1 187.1L462.5 187.1M462.5 187.1L462.9 198.0M462.9 198.0L463.3 198.0M463.3 198.0L463.6 187.1M463.6 187.1L464.0 187.1M464.0 187.1L464.4 198.0M464.4 198.0L464.8 198.0M464.8 198.0L465.2 187.1M465.2 187.1L465.6 198.0M465.6 198.0L475.2 198.0M475.2 198.0L475.6 219.9M475.6 219.9L476.8 219.9M476.8 219.9L477.2 241.8M477.2 241.8L477.6 230.8M477.6 230.8L478.7 230.8M478.7 230.8L479.1 219.9M479.1 219.9L480.7 219.9M480.7 219.9L481.0 209.0M481.0 209.0L487.2 209.0M487.2 209.0L487.6 198.0M487.6 198.0L500.8 198.0M500.8 198.0L501.1 187.1M501.1 187.1L512.4 187.1M512.4 187.1L512.7 176.2M512.7 176.2L523.2 176.2M523.2 176.2L523.6 165.2M523.6 165.2L533.2 165.2M533.2 165.2L533.6 154.3M533.6 154.3L550.2 154.3M550.2 154.3L550.6 187.1M550.6 187.1L551.0 219.9M551.0 219.9L551.8 219.9M551.8 219.9L552.2 241.8M552.2 241.8L552.6 241.8M552.6 241.8L553.0 263.6M553.0 263.6L553.3 241.8M553.3 241.8L554.1 241.8M554.1 241.8L554.5 219.9M554.5 219.9L554.9 219.9M554.9 219.9L555.3 198.0M555.3 198.0L556.0 198.0M556.0 198.0L556.4 187.1M556.4 187.1L557.6 187.1M557.6 187.1L558.0 176.2M558.0 176.2L562.2 176.2M562.2 176.2L562.6 165.2M562.6 165.2L568.4 165.2M568.4 165.2L568.8 154.3M568.8 154.3L569.2 154.3M569.2 154.3L569.6 165.2M569.6 165.2L570.0 165.2M570.0 165.2L570.4 154.3M570.4 154.3L570.7 154.3M570.7 154.3L571.1 165.2M571.1 165.2L571.5 165.2M571.5 165.2L571.9 154.3M571.9 154.3L575.8 154.3M575.8 154.3L576.2 143.4M576.2 143.4L589.3 143.4M589.3 143.4L589.7 187.1M589.7 187.1L590.1 176.2M590.1 176.2L591.6 176.2M591.6 176.2L592.0 165.2M592.0 165.2L593.2 165.2M593.2 165.2L593.6 154.3M593.6 154.3L595.9 154.3M595.9 154.3L596.3 143.4M596.3 143.4L623.3 143.4M623.3 143.4L623.7 132.4M623.7 132.4L624.1 143.4M624.1 143.4L626.0 143.4M626.0 143.4L626.4 132.4M626.4 132.4L694.8 132.4M694.8 132.4L695.2 143.4M695.2 143.4L709.5 143.4M709.5 143.4L709.9 154.3M709.9 154.3L710.3 154.3M710.3 154.3L710.7 143.4M710.7 143.4L721.5 143.4M721.5 143.4L721.9 154.3M721.9 154.3L743.2 154.3M743.2 154.3L743.6 165.2M743.6 165.2L748.6 165.2M748.6 165.2L749.0 154.3M749.0 154.3L749.4 154.3M749.4 154.3L749.8 165.2M749.8 165.2L750.1 165.2M750.1 165.2L750.5 154.3M750.5 154.3L750.9 154.3M750.9 154.3L751.3 165.2M751.3 165.2L755.9 165.2M755.9 165.2L756.3 154.3M756.3 154.3L756.7 154.3M756.7 154.3L757.1 165.2M757.1 165.2L757.5 165.2M757.5 165.2L757.9 154.3M757.9 154.3L758.3 154.3M758.3 154.3L758.6 165.2M758.6 165.2L759.0 165.2M759.0 165.2L759.4 154.3M759.4 154.3L759.8 154.3M759.8 154.3L760.2 165.2M760.2 165.2L760.6 165.2M760.6 165.2L761.0 154.3M761.0 154.3L761.4 165.2M761.4 165.2L794.2 165.2M794.2 165.2L794.6 154.3M794.6 154.3L795.0 154.3M795.0 154.3L795.4 165.2M795.4 165.2L795.8 165.2M795.8 165.2L796.1 154.3M796.1 154.3L796.5 154.3M796.5 154.3L796.9 165.2M796.9 165.2L797.3 165.2M797.3 165.2L797.7 154.3M797.7 154.3L798.1 165.2M798.1 165.2L822.1 165.2M822.1 165.2L822.4 176.2M822.4 176.2L823.6 176.2M823.6 176.2L824.0 165.2M824.0 165.2L852.2 165.2M852.2 165.2L852.6 154.3M852.6 154.3L853.0 165.2M853.0 165.2L854.9 165.2M854.9 165.2L855.3 154.3M855.3 154.3L857.6 154.3M857.6 154.3L858.0 165.2M858.0 165.2L860.3 165.2M860.3 165.2L860.7 154.3M860.7 154.3L863.4 154.3M863.4 154.3L863.8 165.2M863.8 165.2L918.7 165.2M918.7 165.2L919.1 154.3M919.1 154.3L937.3 154.3M937.3 154.3L937.7 165.2M937.7 165.2L938.0 165.2M938.0 165.2L938.4 154.3M938.4 154.3L938.8 154.3M938.8 154.3L939.2 165.2M939.2 165.2L939.6 165.2M939.6 165.2L940.0 154.3M940.0 154.3L940.4 154.3M940.4 154.3L940.7 165.2M940.7 165.2L941.1 165.2M941.1 165.2L941.5 154.3M941.5 154.3L941.9 154.3M941.9 154.3L942.3 165.2M942.3 165.2L942.7 165.2M942.7 165.2L943.1 154.3M943.1 154.3L943.5 154.3M943.5 154.3L943.8 165.2M943.8 165.2L944.2 165.2M944.2 165.2L944.6 154.3M944.6 154.3L945.0 154.3M945.0 154.3L945.4 165.2M945.4 165.2L945.8 165.2M945.8 165.2L946.2 154.3M946.2 154.3L946.5 154.3M946.5 154.3L946.9 165.2M946.9 165.2L961.6 165.2M961.6 165.2L962.0 154.3M962.0 154.3L962.4 154.3M962.4 154.3L962.8 165.2M962.8 165.2L968.2 165.2M968.2 165.2L968.6 154.3M968.6 154.3L969.0 154.3M969.0 154.3L969.4 165.2M969.4 165.2L969.7 165.2M969.7 165.2L970.1 154.3M970.1 154.3L970.5 154.3M970.5 154.3L970.9 165.2M970.9 165.2L975.9 165.2M975.9 165.2L976.3 154.3M976.3 154.3L976.7 154.3M976.7 154.3L977.1 165.2M977.1 165.2L977.5 165.2M977.5 165.2L977.9 154.3M977.9 154.3L978.3 154.3M978.3 154.3L978.6 165.2M978.6 165.2L979.0 165.2M979.0 165.2L979.4 154.3M979.4 154.3L979.8 165.2M979.8 165.2L987.9 165.2M987.9 165.2L988.3 154.3M988.3 154.3L988.7 165.2M988.7 165.2L993.7 165.2M993.7 165.2L994.1 176.2M994.1 176.2L1006.5 176.2M1006.5 176.2L1006.9 187.1M1006.9 187.1L1019.6 187.1M1019.6 187.1L1020.0 198.0M1020.0 198.0L1041.7 198.0M1041.7 198.0L1042.0 209.0M1042.0 209.0L1058.7 209.0M1058.7 209.0L1059.1 198.0M1059.1 198.0L1064.9 198.0M1064.9 198.0L1065.2 187.1M1065.2 187.1L1083.0 187.1M1083.0 187.1L1083.4 176.2M1083.4 176.2L1104.7 176.2M1104.7 176.2L1105.1 165.2M1105.1 165.2L1114.0 165.2M1114.0 165.2L1114.3 154.3M1114.3 154.3L1122.5 154.3M1122.5 154.3L1122.9 165.2M1122.9 165.2L1128.3 165.2M1128.3 165.2L1128.7 154.3M1128.7 154.3L1137.2 154.3M1137.2 154.3L1137.5 143.4M1137.5 143.4L1158.4 143.4M1158.4 143.4L1158.8 132.4M1158.8 132.4L1159.2 132.4M1159.2 132.4L1159.6 143.4M1159.6 143.4L1173.5 143.4"/>
<path class="s" stroke="#ff5555" d="M60.0 121.5L81.3 121.5M81.3 121.5L81.7 110.6M81.7 110.6L82.0 121.5M82.0 121.5L84.0 121.5M84.0 121.5L84.4 110.6M84.4 110.6L86.7 110.6M86.7 110.6L87.1 121.5M87.1 121.5L89.4 121.5M89.4 121.5L89.8 110.6M89.8 110.6L92.9 110.6M92.9 110.6L93.3 121.5M93.3 121.5L124.6 121.5M124.6 121.5L125.0 132.4M125.0 132.4L125.3 132.4M125.3 132.4L125.7 121.5M125.7 121.5L126.1 121.5M126.1 121.5L126.5 132.4M126.5 132.4L126.9 132.4M126.9 132.4L127.3 121.5M127.3 121.5L127.7 121.5M127.7 121.5L128.0 132.4M128.0 132.4L128.4 132.4M128.4 132.4L128.8 121.5M128.8 121.5L129.2 121.5M129.2 121.5L129.6 132.4M129.6 132.4L130.0 132.4M130.0 132.4L130.4 121.5M130.4 121.5L130.8 121.5M130.8 121.5L131.1 132.4M131.1 132.4L131.5 132.4M131.5 132.4L131.9 121.5M131.9 121.5L132.3 121.5M132.3 121.5L132.7 132.4M132.7 132.4L133.1 132.4M133.1 132.4L133.5 121.5M133.5 121.5L133.8 121.5M133.8 121.5L134.2 132.4M134.2 132.4L134.6 132.4M134.6 132.4L135.0 121.5M135.0 121.5L135.4 132.4M135.4 132.4L176.0 132.4M176.0 132.4L176.4 143.4M176.4 143.4L177.1 143.4M177.1 143.4L177.5 132.4M177.5 132.4L187.6 132.4M187.6 132.4L188.0 143.4M188.0 143.4L188.4 143.4M188.4 143.4L188.7 132.4M188.7 132.4L189.1 132.4M189.1 132.4L189.5 143.4M189.5 143.4L189.9 143.4M189.9 143.4L190.3 132.4M190.3 132.4L190.7 132.4M190.7 132.4L191.1 143.4M191.1 143.4L191.5 143.4M191.5 143.4L191.8 132.4M191.8 132.4L192.2 132.4M192.2 132.4L192.6 143.4M192.6 143.4L193.0 143.4M193.0 143.4L193.4 132.4M193.4 132.4L193.8 132.4M193.8 132.4L194.2 143.4M194.2 143.4L194.5 143.4M194.5 143.4L194.9 132.4M194.9 132.4L195.3 132.4M195.3 132.4L195.7 143.4M195.7 143.4L200.0 143.4M200.0 143.4L200.3 132.4M200.3 132.4L200.7 132.4M200.7 132.4L201.1 143.4M201.1 143.4L201.5 143.4M201.5 143.4L201.9 132.4M201.9 132.4L202.3 132.4M202.3 132.4L202.7 143.4M202.7 143.4L203.1 143.4M203.1 143.4L203.4 132.4M203.4 132.4L203.8 143.4M203.8 143.4L227.0 143.4M227.0 143.4L227.4 154.3M227.4 154.3L227.8 143.4M227.8 143.4L231.3 143.4M231.3 143.4L231.7 154.3M231.7 154.3L232.1 143.4M232.1 143.4L235.5 143.4M235.5 143.4L235.9 154.3M235.9 154.3L236.3 143.4M236.3 143.4L239.8 143.4M239.8 143.4L240.2 154.3M240.2 154.3L240.6 143.4M240.6 143.4L248.7 143.4M248.7 143.4L249.1 154.3M249.1 154.3L249.4 154.3M249.4 154.3L249.8 143.4M249.8 143.4L250.2 143.4M250.2 143.4L250.6 154.3M250.6 154.3L251.0 154.3M251.0 154.3L251.4 143.4M251.4 143.4L251.8 143.4M251.8 143.4L252.2 154.3M252.2 154.3L252.5 154.3M252.5 154.3L252.9 143.4M252.9 143.4L253.3 143.4M253.3 143.4L253.7 154.3M253.7 154.3L279.2 154.3M279.2 154.3L279.6 165.2M279.6 165.2L280.0 165.2M280.0 165.2L280.4 154.3M280.4 154.3L280.8 154.3M280.8 154.3L281.2 165.2M281.2 165.2L281.5 165.2M281.5 165.2L281.9 154.3M281.9 154.3L282.3 154.3M282.3 154.3L282.7 165.2M282.7 165.2L283.1 165.2M283.1 165.2L283.5 154.3M283.5 154.3L283.9 154.3M283.9 154.3L284.2 165.2M284.2 165.2L284.6 165.2M284.6 165.2L285.0 154.3M285.0 154.3L285.4 154.3M285.4 154.3L285.8 165.2M285.8 165.2L286.2 165.2M286.2 165.2L286.6 154.3M286.6 154.3L287.0 154.3M287.0 154.3L287.3 165.2M287.3 165.2L302.4 165.2M302.4 165.2L302.8 176.2M302.8 176.2L303.2 165.2M303.2 165.2L305.5 165.2M305.5 165.2L305.9 176.2M305.9 176.2L319.4 176.2M319.4 176.2L319.8 187.1M319.8 187.1L320.2 187.1M320.2 187.1L320.6 176.2M320.6 176.2L331.8 176.2M331.8 176.2L332.2 187.1M332.2 187.1L332.6 187.1M332.6 187.1L333.0 176.2M333.0 176.2L333.3 176.2M333.3 176.2L333.7 187.1M333.7 187.1L334.1 187.1M334.1 187.1L334.5 176.2M334.5 176.2L334.9 176.2M334.9 176.2L335.3 187.1M335.3 187.1L335.7 187.1M335.7 187.1L336.1 176.2M336.1 176.2L336.4 176.2M336.4 176.2L336.8 187.1M336.8 187.1L370.9 187.1M370.9 187.1L371.2 198.0M371.2 198.0L371.6 187.1M371.6 187.1L390.6 187.1M390.6 187.1L391.0 198.0M391.0 198.0L394.4 198.0M394.4 198.0L394.8 219.9M394.8 219.9L395.2 219.9M395.2 219.9L395.6 198.0M395.6 198.0L414.9 198.0M414.9 198.0L415.3 187.1M415.3 187.1L415.7 187.1M415.7 187.1L416.1 198.0M416.1 198.0L416.5 198.0M416.5 198.0L416.9 187.1M416.9 187.1L417.2 187.1M417.2 187.1L417.6 198.0M417.6 198.0L418.0 198.0M418.0 198.0L418.4 187.1M418.4 187.1L418.8 198.0M418.8 198.0L424.6 198.0M424.6 198.0L425.0 187.1M425.0 187.1L425.4 187.1M425.4 187.1L425.8 198.0M425.8 198.0L426.1 198.0M426.1 198.0L426.5 187.1M426.5 187.1L426.9 187.1M426.9 187.1L427.3 198.0M427.3 198.0L427.7 198.0M427.7 198.0L428.1 187.1M428.1 187.1L428.5 187.1M428.5 187.1L428.8 198.0M428.8 198.0L429.2 198.0M429.2 198.0L429.6 187.1M429.6 187.1L430.0 198.0M430.0 198.0L433.1 198.0M433.1 198.0L433.5 219.9M433.5 219.9L434.6 219.9M434.6 219.9L435.0 241.8M435.0 241.8L437.0 241.8M437.0 241.8L437.4 263.6M437.4 263.6L441.6 263.6M441.6 263.6L442.0 274.5M442.0 274.5L445.5 274.5M445.5 274.5L445.9 285.5M445.9 285.5L449.7 285.5M449.7 285.5L450.1 296.4M450.1 296.4L451.3 296.4M451.3 296.4L451.7 307.3M451.7 307.3L452.0 296.4M452.0 296.4L459.4 296.4M459.4 296.4L459.8 285.5M459.8 285.5L464.4 285.5M464.4 285.5L464.8 296.4M464.8 296.4L473.7 296.4M473.7 296.4L474.1 318.3M474.1 318.3L474.5 318.3M474.5 318.3L474.9 296.4M474.9 296.4L475.2 296.4M475.2 296.4L475.6 329.2M475.6 329.2L476.4 329.2M476.4 329.2L476.8 351.1M476.8 351.1L477.2 329.2M477.2 329.2L478.3 329.2M478.3 329.2L478.7 318.3M478.7 318.3L479.1 318.3M479.1 318.3L479.5 307.3M479.5 307.3L479.9 307.3M479.9 307.3L480.3 318.3M480.3 318.3L480.7 307.3M480.7 307.3L484.9 307.3M484.9 307.3L485.3 296.4M485.3 296.4L485.7 296.4M485.7 296.4L486.1 307.3M486.1 307.3L486.5 307.3M486.5 307.3L486.8 296.4M486.8 296.4L487.2 296.4M487.2 296.4L487.6 307.3M487.6 307.3L488.0 307.3M488.0 307.3L488.4 296.4M488.4 296.4L488.8 296.4M488.8 296.4L489.2 307.3M489.2 307.3L498.1 307.3M498.1 307.3L498.4 296.4M498.4 296.4L499.2 296.4M499.2 296.4L499.6 285.5M499.6 285.5L511.6 285.5M511.6 285.5L512.0 274.5M512.0 274.5L517.0 274.5M517.0 274.5L517.4 263.6M517.4 263.6L517.8 263.6M517.8 263.6L518.2 274.5M518.2 274.5L518.5 274.5M518.5 274.5L518.9 263.6M518.9 263.6L519.3 263.6M519.3 263.6L519.7 274.5M519.7 274.5L520.1 274.5M520.1 274.5L520.5 263.6M520.5 263.6L524.7 263.6M524.7 263.6L525.1 252.7M525.1 252.7L531.7 252.7M531.7 252.7L532.1 241.8M532.1 241.8L545.2 241.8M545.2 241.8L545.6 252.7M545.6 252.7L546.0 252.7M546.0 252.7L546.4 241.8M546.4 241.8L546.8 241.8M546.8 241.8L547.2 252.7M547.2 252.7L547.5 252.7M547.5 252.7L547.9 241.8M547.9 241.8L548.3 241.8M548.3 241.8L548.7 252.7M548.7 252.7L549.1 263.6M549.1 263.6L549.9 263.6M549.9 263.6L550.2 296.4M550.2 296.4L550.6 296.4M550.6 296.4L551.0 329.2M551.0 329.2L552.2 329.2M552.2 329.2L552.6 351.1M552.6 351.1L553.0 329.2M553.0 329.2L553.7 329.2M553.7 329.2L554.1 307.3M554.1 307.3L554.9 307.3M554.9 307.3L555.3 296.4M555.3 296.4L555.7 296.4M555.7 296.4L556.0 285.5M556.0 285.5L557.2 285.5M557.2 285.5L557.6 274.5M557.6 274.5L560.3 274.5M560.3 274.5L560.7 263.6M560.7 263.6L563.8 263.6M563.8 263.6L564.2 252.7M564.2 252.7L567.6 252.7M567.6 252.7L568.0 263.6M568.0 263.6L568.4 263.6M568.4 263.6L568.8 252.7M568.8 252.7L569.2 252.7M569.2 252.7L569.6 263.6M569.6 263.6L570.0 263.6M570.0 263.6L570.4 252.7M570.4 252.7L570.7 252.7M570.7 252.7L571.1 263.6M571.1 263.6L571.5 252.7M571.5 252.7L575.8 252.7M575.8 252.7L576.2 241.8M576.2 241.8L579.2 241.8M579.2 241.8L579.6 252.7M579.6 252.7L580.0 252.7M580.0 252.7L580.4 241.8M580.4 241.8L580.8 241.8M580.8 241.8L581.2 252.7M581.2 252.7L581.6 252.7M581.6 252.7L582.0 241.8M582.0 241.8L585.8 241.8M585.8 241.8L586.2 252.7M586.2 252.7L586.6 241.8M586.6 241.8L588.1 241.8M588.1 241.8L588.5 263.6M588.5 263.6L589.3 263.6M589.3 263.6L589.7 285.5M589.7 285.5L590.1 274.5M590.1 274.5L591.2 274.5M591.2 274.5L591.6 263.6M591.6 263.6L592.4 263.6M592.4 263.6L592.8 252.7M592.8 252.7L595.9 252.7M595.9 252.7L596.3 241.8M596.3 241.8L598.6 241.8M598.6 241.8L599.0 252.7M599.0 252.7L601.7 252.7M601.7 252.7L602.1 241.8M602.1 241.8L614.0 241.8M614.0 241.8L614.4 230.8M614.4 230.8L614.8 230.8M614.8 230.8L615.2 241.8M615.2 241.8L615.6 241.8M615.6 241.8L616.0 230.8M616.0 230.8L616.4 230.8M616.4 230.8L616.8 241.8M616.8 241.8L621.0 241.8M621.0 241.8L621.4 230.8M621.4 230.8L621.8 230.8M621.8 230.8L622.2 241.8M622.2 241.8L622.5 241.8M622.5 241.8L622.9 230.8M622.9 230.8L623.3 230.8M623.3 230.8L623.7 241.8M623.7 241.8L624.1 241.8M624.1 241.8L624.5 230.8M624.5 230.8L624.9 230.8M624.9 230.8L625.3 241.8M625.3 241.8L625.6 241.8M625.6 241.8L626.0 230.8M626.0 230.8L626.4 230.8M626.4 230.8L626.8 241.8M626.8 241.8L627.2 241.8M627.2 241.8L627.6 230.8M627.6 230.8L628.0 230.8M628.0 230.8L628.3 241.8M628.3 241.8L628.7 241.8M628.7 241.8L629.1 230.8M629.1 230.8L629.5 230.8M629.5 230.8L629.9 241.8M629.9 241.8L630.3 219.9M630.3 219.9L631.4 219.9M631.4 219.9L631.8 230.8M631.8 230.8L647.7 230.8M647.7 230.8L648.1 241.8M648.1 241.8L648.5 241.8M648.5 241.8L648.8 230.8M648.8 230.8L663.1 230.8M663.1 230.8L663.5 219.9M663.5 219.9L687.1 219.9M687.1 219.9L687.5 230.8M687.5 230.8L687.9 230.8M687.9 230.8L688.3 219.9M688.3 219.9L688.7 219.9M688.7 219.9L689.1 230.8M689.1 230.8L689.4 230.8M689.4 230.8L689.8 219.9M689.8 219.9L693.7 219.9M693.7 219.9L694.1 230.8M694.1 230.8L694.5 230.8M694.5 230.8L694.8 219.9M694.8 219.9L695.2 219.9M695.2 219.9L695.6 230.8M695.6 230.8L696.0 230.8M696.0 230.8L696.4 219.9M696.4 219.9L696.8 219.9M696.8 219.9L697.2 230.8M697.2 230.8L697.6 230.8M697.6 230.8L697.9 219.9M697.9 219.9L698.3 219.9M698.3 219.9L698.7 230.8M698.7 230.8L699.1 219.9M699.1 219.9L712.6 219.9M712.6 219.9L713.0 230.8M713.0 230.8L713.4 230.8M713.4 230.8L713.8 219.9M713.8 219.9L714.2 219.9M714.2 219.9L714.6 230.8M714.6 230.8L715.0 230.8M715.0 230.8L715.3 219.9M715.3 219.9L715.7 219.9M715.7 219.9L716.1 230.8M716.1 230.8L716.5 230.8M716.5 230.8L716.9 219.9M716.9 219.9L717.3 219.9M717.3 219.9L717.7 230.8M717.7 230.8L718.0 219.9M718.0 219.9L722.7 219.9M722.7 219.9L723.1 230.8M723.1 230.8L723.5 230.8M723.5 230.8L723.8 219.9M723.8 219.9L724.2 219.9M724.2 219.9L724.6 230.8M724.6 230.8L725.0 230.8M725.0 230.8L725.4 219.9M725.4 219.9L725.8 219.9M725.8 219.9L726.2 230.8M726.2 230.8L726.6 230.8M726.6 230.8L726.9 219.9M726.9 219.9L727.3 219.9M727.3 219.9L727.7 230.8M727.7 230.8L728.1 230.8M728.1 230.8L728.5 219.9M728.5 219.9L728.9 230.8M728.9 230.8L737.8 230.8M737.8 230.8L738.2 241.8M738.2 241.8L738.5 230.8M738.5 230.8L740.5 230.8M740.5 230.8L740.9 241.8M740.9 241.8L743.2 241.8M743.2 241.8L743.6 230.8M743.6 230.8L760.2 230.8M760.2 230.8L760.6 241.8M760.6 241.8L761.0 241.8M761.0 241.8L761.4 230.8M761.4 230.8L761.7 230.8M761.7 230.8L762.1 241.8M762.1 241.8L762.5 241.8M762.5 241.8L762.9 230.8M762.9 230.8L763.3 230.8M763.3 230.8L763.7 241.8M763.7 241.8L764.1 241.8M764.1 241.8L764.4 230.8M764.4 230.8L764.8 230.8M764.8 230.8L765.2 241.8M765.2 241.8L765.6 230.8M765.6 230.8L769.9 230.8M769.9 230.8L770.2 241.8M770.2 241.8L776.0 241.8M776.0 241.8L776.4 230.8M776.4 230.8L776.8 230.8M776.8 230.8L777.2 241.8M777.2 241.8L777.6 241.8M777.6 241.8L778.0 230.8M778.0 230.8L778.4 230.8M778.4 230.8L778.7 241.8M778.7 241.8L779.1 241.8M779.1 241.8L779.5 230.8M779.5 230.8L779.9 230.8M779.9 230.8L780.3 241.8M780.3 241.8L780.7 241.8M780.7 241.8L781.1 230.8M781.1 230.8L781.5 230.8M781.5 230.8L781.8 241.8M781.8 241.8L817.8 241.8M817.8 241.8L818.2 230.8M818.2 230.8L818.6 230.8M818.6 230.8L819.0 241.8M819.0 241.8L819.3 241.8M819.3 241.8L819.7 230.8M819.7 230.8L820.1 230.8M820.1 230.8L820.5 241.8M820.5 241.8L820.9 241.8M820.9 241.8L821.3 230.8M821.3 230.8L821.7 230.8M821.7 230.8L822.1 241.8M822.1 241.8L822.4 241.8M822.4 241.8L822.8 230.8M822.8 230.8L823.2 230.8M823.2 230.8L823.6 241.8M823.6 241.8L824.0 241.8M824.0 241.8L824.4 230.8M824.4 230.8L824.8 230.8M824.8 230.8L825.1 241.8M825.1 241.8L825.5 241.8M825.5 241.8L825.9 230.8M825.9 230.8L826.3 230.8M826.3 230.8L826.7 241.8M826.7 241.8L827.1 241.8M827.1 241.8L827.5 230.8M827.5 230.8L827.9 230.8M827.9 230.8L828.2 241.8M828.2 241.8L828.6 241.8M828.6 241.8L829.0 230.8M829.0 230.8L829.4 230.8M829.4 230.8L829.8 241.8M829.8 241.8L830.2 241.8M830.2 241.8L830.6 230.8M830.6 230.8L830.9 230.8M830.9 230.8L831.3 241.8M831.3 241.8L831.7 241.8M831.7 241.8L832.1 230.8M832.1 230.8L832.5 230.8M832.5 230.8L832.9 241.8M832.9 241.8L833.3 241.8M833.3 241.8L833.7 230.8M833.7 230.8L834.0 230.8M834.0 230.8L834.4 241.8M834.4 241.8L834.8 241.8M834.8 241.8L835.2 219.9M835.2 219.9L837.1 219.9M837.1 219.9L837.5 230.8M837.5 230.8L837.9 230.8M837.9 230.8L838.3 241.8M838.3 241.8L838.7 241.8M838.7 241.8L839.1 230.8M839.1 230.8L839.4 230.8M839.4 230.8L839.8 241.8M839.8 241.8L840.2 241.8M840.2 241.8L840.6 230.8M840.6 230.8L841.0 230.8M841.0 230.8L841.4 241.8M841.4 241.8L841.8 241.8M841.8 241.8L842.2 230.8M842.2 230.8L842.5 230.8M842.5 230.8L842.9 241.8M842.9 241.8L843.3 241.8M843.3 241.8L843.7 230.8M843.7 230.8L844.1 230.8M844.1 230.8L844.5 241.8M844.5 241.8L844.9 241.8M844.9 241.8L845.2 230.8M845.2 230.8L845.6 230.8M845.6 230.8L846.0 241.8M846.0 241.8L846.4 241.8M846.4 241.8L846.8 230.8M846.8 230.8L847.2 230.8M847.2 230.8L847.6 241.8M847.6 241.8L848.0 241.8M848.0 241.8L848.3 230.8M848.3 230.8L848.7 230.8M848.7 230.8L849.1 241.8M849.1 241.8L849.5 241.8M849.5 241.8L849.9 230.8M849.9 230.8L850.3 230.8M850.3 230.8L850.7 241.8M850.7 241.8L851.0 241.8M851.0 241.8L851.4 230.8M851.4 230.8L851.8 230.8M851.8 230.8L852.2 241.8M852.2 241.8L852.6 241.8M852.6 241.8L853.0 230.8M853.0 230.8L853.4 230.8M853.4 230.8L853.8 241.8M853.8 241.8L854.1 241.8M854.1 241.8L854.5 230.8M854.5 230.8L854.9 230.8M854.9 230.8L855.3 241.8M855.3 241.8L855.7 241.8M855.7 241.8L856.1 230.8M856.1 230.8L856.5 230.8M856.5 230.8L856.8 241.8M856.8 241.8L857.2 241.8M857.2 241.8L857.6 230.8M857.6 230.8L858.0 230.8M858.0 230.8L858.4 241.8M858.4 241.8L858.8 241.8M858.8 241.8L859.2 230.8M859.2 230.8L859.6 230.8M859.6 230.8L859.9 241.8M859.9 241.8L860.3 241.8M860.3 241.8L860.7 230.8M860.7 230.8L861.1 230.8M861.1 230.8L861.5 241.8M861.5 241.8L861.9 241.8M861.9 241.8L862.3 230.8M862.3 230.8L862.6 230.8M862.6 230.8L863.0 241.8M863.0 241.8L863.4 241.8M863.4 241.8L863.8 230.8M863.8 230.8L864.2 230.8M864.2 230.8L864.6 241.8M864.6 241.8L865.0 241.8M865.0 241.8L865.4 230.8M865.4 230.8L865.7 230.8M865.7 230.8L866.1 241.8M866.1 241.8L866.5 241.8M866.5 241.8L866.9 230.8M866.9 230.8L878.9 230.8M878.9 230.8L879.3 241.8M879.3 241.8L879.7 241.8M879.7 241.8L880.0 230.8M880.0 230.8L880.4 230.8M880.4 230.8L880.8 241.8M880.8 241.8L881.2 241.8M881.2 241.8L881.6 230.8M881.6 230.8L882.0 230.8M882.0 230.8L882.4 241.8M882.4 241.8L882.8 241.8M882.8 241.8L883.1 230.8M883.1 230.8L883.5 230.8M883.5 230.8L883.9 241.8M883.9 241.8L884.3 241.8M884.3 241.8L884.7 230.8M884.7 230.8L885.1 230.8M885.1 230.8L885.5 241.8M885.5 241.8L885.8 241.8M885.8 241.8L886.2 230.8M886.2 230.8L886.6 230.8M886.6 230.8L887.0 241.8M887.0 241.8L887.4 241.8M887.4 241.8L887.8 230.8M887.8 230.8L888.2 230.8M888.2 230.8L888.6 241.8M888.6 241.8L888.9 241.8M888.9 241.8L889.3 230.8M889.3 230.8L889.7 230.8M889.7 230.8L890.1 241.8M890.1 241.8L890.5 241.8M890.5 241.8L890.9 230.8M890.9 230.8L891.3 230.8M891.3 230.8L891.6 241.8M891.6 241.8L892.0 241.8M892.0 241.8L892.4 230.8M892.4 230.8L892.8 230.8M892.8 230.8L893.2 241.8M893.2 241.8L893.6 241.8M893.6 241.8L894.0 230.8M894.0 230.8L894.4 230.8M894.4 230.8L894.7 241.8M894.7 241.8L895.1 241.8M895.1 241.8L895.5 230.8M895.5 230.8L895.9 230.8M895.9 230.8L896.3 241.8M896.3 241.8L896.7 241.8M896.7 241.8L897.1 230.8M897.1 230.8L897.4 230.8M897.4 230.8L897.8 241.8M897.8 241.8L898.2 241.8M898.2 241.8L898.6 230.8M898.6 230.8L899.0 241.8M899.0 241.8L913.7 241.8M913.7 241.8L914.1 230.8M914.1 230.8L914.5 230.8M914.5 230.8L914.8 241.8M914.8 241.8L915.2 230.8M915.2 230.8L919.1 230.8M919.1 230.8L919.5 241.8M919.5 241.8L919.9 241.8M919.9 241.8L920.3 230.8M920.3 230.8L920.6 230.8M920.6 230.8L921.0 241.8M921.0 241.8L921.4 241.8M921.4 241.8L921.8 230.8M921.8 230.8L922.2 230.8M922.2 230.8L922.6 241.8M922.6 241.8L923.0 241.8M923.0 241.8L923.3 230.8M923.3 230.8L926.8 230.8M926.8 230.8L927.2 241.8M927.2 241.8L927.6 241.8M927.6 241.8L928.0 230.8M928.0 230.8L928.4 230.8M928.4 230.8L928.8 241.8M928.8 241.8L929.1 241.8M929.1 241.8L929.5 230.8M929.5 230.8L929.9 230.8M929.9 230.8L930.3 241.8M930.3 241.8L930.7 241.8M930.7 241.8L931.1 230.8M931.1 230.8L934.6 230.8M934.6 230.8L934.9 241.8M934.9 241.8L935.3 241.8M935.3 241.8L935.7 230.8M935.7 230.8L939.2 230.8M939.2 230.8L939.6 241.8M939.6 241.8L940.0 241.8M940.0 241.8L940.4 230.8M940.4 230.8L947.3 230.8M947.3 230.8L947.7 241.8M947.7 241.8L948.1 241.8M948.1 241.8L948.5 230.8M948.5 230.8L948.9 230.8M948.9 230.8L949.3 241.8M949.3 241.8L949.6 241.8M949.6 241.8L950.0 230.8M950.0 230.8L950.4 230.8M950.4 230.8L950.8 241.8M950.8 241.8L951.2 241.8M951.2 241.8L951.6 230.8M951.6 230.8L952.0 230.8M952.0 230.8L952.3 241.8M952.3 241.8L952.7 241.8M952.7 241.8L953.1 230.8M953.1 230.8L953.5 230.8M953.5 230.8L953.9 241.8M953.9 241.8L954.3 241.8M954.3 241.8L954.7 230.8M954.7 230.8L955.1 230.8M955.1 230.8L955.4 241.8M955.4 241.8L955.8 241.8M955.8 241.8L956.2 230.8M956.2 230.8L956.6 230.8M956.6 230.8L957.0 241.8M957.0 241.8L957.4 241.8M957.4 241.8L957.8 230.8M957.8 230.8L958.1 230.8M958.1 230.8L958.5 241.8M958.5 241.8L958.9 241.8M958.9 241.8L959.3 230.8M959.3 230.8L959.7 230.8M959.7 230.8L960.1 241.8M960.1 241.8L960.5 241.8M960.5 241.8L960.9 230.8M960.9 230.8L961.2 230.8M961.2 230.8L961.6 241.8M961.6 241.8L962.0 241.8M962.0 241.8L962.4 230.8M962.4 230.8L962.8 230.8M962.8 230.8L963.2 241.8M963.2 241.8L963.6 241.8M963.6 241.8L963.9 230.8M963.9 230.8L964.3 230.8M964.3 230.8L964.7 241.8M964.7 241.8L965.1 241.8M965.1 241.8L965.5 230.8M965.5 230.8L965.9 230.8M965.9 230.8L966.3 241.8M966.3 241.8L966.7 241.8M966.7 241.8L967.0 230.8M967.0 230.8L967.4 241.8M967.4 241.8L981.0 241.8M981.0 241.8L981.3 230.8M981.3 230.8L981.7 230.8M981.7 230.8L982.1 241.8M982.1 241.8L987.9 241.8M987.9 241.8L988.3 252.7M988.3 252.7L990.6 252.7M990.6 252.7L991.0 263.6M991.0 263.6L995.3 263.6M995.3 263.6L995.6 274.5M995.6 274.5L1000.7 274.5M1000.7 274.5L1001.1 285.5M1001.1 285.5L1012.3 285.5M1012.3 285.5L1012.7 296.4M1012.7 296.4L1024.3 296.4M1024.3 296.4L1024.6 285.5M1024.6 285.5L1036.6 285.5M1036.6 285.5L1037.0 296.4M1037.0 296.4L1044.0 296.4M1044.0 296.4L1044.4 307.3M1044.4 307.3L1044.8 296.4M1044.8 296.4L1058.7 296.4M1058.7 296.4L1059.1 285.5M1059.1 285.5L1059.4 285.5M1059.4 285.5L1059.8 296.4M1059.8 296.4L1060.2 296.4M1060.2 296.4L1060.6 285.5M1060.6 285.5L1061.0 285.5M1061.0 285.5L1061.4 296.4M1061.4 296.4L1061.8 296.4M1061.8 296.4L1062.2 285.5M1062.2 285.5L1066.8 285.5M1066.8 285.5L1067.2 274.5M1067.2 274.5L1067.6 274.5M1067.6 274.5L1067.9 285.5M1067.9 285.5L1068.3 285.5M1068.3 285.5L1068.7 274.5M1068.7 274.5L1069.1 274.5M1069.1 274.5L1069.5 285.5M1069.5 285.5L1069.9 285.5M1069.9 285.5L1070.3 274.5M1070.3 274.5L1074.1 274.5M1074.1 274.5L1074.5 285.5M1074.5 285.5L1074.9 285.5M1074.9 285.5L1075.3 274.5M1075.3 274.5L1075.7 274.5M1075.7 274.5L1076.1 285.5M1076.1 285.5L1076.5 285.5M1076.5 285.5L1076.8 274.5M1076.8 274.5L1086.9 274.5M1086.9 274.5L1087.3 263.6M1087.3 263.6L1098.9 263.6M1098.9 263.6L1099.3 274.5M1099.3 274.5L1099.7 274.5M1099.7 274.5L1100.0 263.6M1100.0 263.6L1100.4 263.6M1100.4 263.6L1100.8 274.5M1100.8 274.5L1101.2 274.5M1101.2 274.5L1101.6 263.6M1101.6 263.6L1102.0 263.6M1102.0 263.6L1102.4 274.5M1102.4 274.5L1102.7 274.5M1102.7 274.5L1103.1 263.6M1103.1 263.6L1115.1 263.6M1115.1 263.6L1115.5 252.7M1115.5 252.7L1115.9 252.7M1115.9 252.7L1116.3 263.6M1116.3 263.6L1116.7 263.6M1116.7 263.6L1117.1 252.7M1117.1 252.7L1117.4 252.7M1117.4 252.7L1117.8 263.6M1117.8 263.6L1123.6 263.6M1123.6 263.6L1124.0 252.7M1124.0 252.7L1129.4 252.7M1129.4 252.7L1129.8 241.8M1129.8 241.8L1130.2 241.8M1130.2 241.8L1130.6 252.7M1130.6 252.7L1131.0 252.7M1131.0 252.7L1131.4 241.8M1131.4 241.8L1131.7 241.8M1131.7 241.8L1132.1 252.7M1132.1 252.7L1132.5 252.7M1132.5 252.7L1132.9 241.8M1132.9 241.8L1133.3 241.8M1133.3 241.8L1133.7 252.7M1133.7 252.7L1134.1 252.7M1134.1 252.7L1134.5 241.8M1134.5 241.8L1139.1 241.8M1139.1 241.8L1139.5 230.8M1139.5 230.8L1139.9 241.8M1139.9 241.8L1154.2 241.8M1154.2 241.8L1154.6 230.8M1154.6 230.8L1154.9 241.8M1154.9 241.8L1169.6 241.8M1169.6 241.8L1170.0 252.7M1170.0 252.7L1173.5 252.7"/>
<line x1="34.4" y1="10" x2="34.4" y2="409" stroke="#000" stroke-width="1.6"/>
<line x1="38" y1="412.4" x2="1196" y2="412.4" stroke="#000" stroke-width="1.6"/>
<line x1="31.8" y1="405.5" x2="33.8" y2="405.5" stroke="#444" stroke-width="1"/>
<line x1="31.8" y1="296.5" x2="33.8" y2="296.5" stroke="#444" stroke-width="1"/>
<line x1="31.8" y1="187.5" x2="33.8" y2="187.5" stroke="#444" stroke-width="1"/>
<line x1="31.8" y1="77.5" x2="33.8" y2="77.5" stroke="#444" stroke-width="1"/>
<line x1="83.5" y1="412" x2="83.5" y2="415.2" stroke="#666" stroke-width="1"/>
<line x1="153.0" y1="412" x2="153.0" y2="415.2" stroke="#666" stroke-width="1"/>
<line x1="222.6" y1="412" x2="222.6" y2="415.2" stroke="#666" stroke-width="1"/>
<line x1="292.1" y1="412" x2="292.1" y2="415.2" stroke="#666" stroke-width="1"/>
<line x1="361.6" y1="412" x2="361.6" y2="415.2" stroke="#666" stroke-width="1"/>
<line x1="431.2" y1="412" x2="431.2" y2="415.2" stroke="#666" stroke-width="1"/>
<line x1="500.7" y1="412" x2="500.7" y2="415.2" stroke="#666" stroke-width="1"/>
<line x1="570.2" y1="412" x2="570.2" y2="415.2" stroke="#666" stroke-width="1"/>
<line x1="639.8" y1="412" x2="639.8" y2="415.2" stroke="#666" stroke-width="1"/>
<line x1="709.3" y1="412" x2="709.3" y2="415.2" stroke="#666" stroke-width="1"/>
<line x1="778.8" y1="412" x2="778.8" y2="415.2" stroke="#666" stroke-width="1"/>
<line x1="848.4" y1="412" x2="848.4" y2="415.2" stroke="#666" stroke-width="1"/>
<line x1="917.9" y1="412" x2="917.9" y2="415.2" stroke="#666" stroke-width="1"/>
<line x1="987.4" y1="412" x2="987.4" y2="415.2" stroke="#666" stroke-width="1"/>
<line x1="1057.0" y1="412" x2="1057.0" y2="415.2" stroke="#666" stroke-width="1"/>
<line x1="1126.5" y1="412" x2="1126.5" y2="415.2" stroke="#666" stroke-width="1"/>
<rect x="423.5" y="566.5" width="360.9" height="31.8" fill="#fff" stroke="#000" stroke-width="1.1"/>
<line x1="425.2" y1="582.3" x2="442.0" y2="582.3" stroke="#ff5555" stroke-width="3"/>
<line x1="497.2" y1="582.3" x2="514.0" y2="582.3" stroke="#5555ff" stroke-width="3"/>
<line x1="569.2" y1="582.3" x2="586.0" y2="582.3" stroke="#55ff55" stroke-width="3"/>
<line x1="641.2" y1="582.3" x2="658.0" y2="582.3" stroke="#ffff55" stroke-width="3"/>
<line x1="713.2" y1="582.3" x2="730.0" y2="582.3" stroke="#ff55ff" stroke-width="3"/>
<g class="t">
<text class="yl" x="13.8 23.3" y="411.1" text-anchor="middle">11</text>
<text class="yl" x="13.8 23.3" y="301.8" text-anchor="middle">12</text>
<text class="yl" x="13.8 23.3" y="192.5" text-anchor="middle">13</text>
<text class="yl" x="13.8 23.3" y="83.2" text-anchor="middle">14</text>
<text class="xl" transform="translate(88.9,556.3) rotate(-90)" x="0 9 18 27 36 45 54 63 72 81 90 99 108 117 126 135" y="0" text-anchor="middle" xml:space="preserve">2025-01-10 18:00</text>
<text class="xl" transform="translate(158.4,556.3) rotate(-90)" x="0 9 18 27 36 45 54 63 72 81 90 99 108 117 126 135" y="0" text-anchor="middle" xml:space="preserve">2025-01-10 21:00</text>
<text class="xl" transform="translate(228.0,556.3) rotate(-90)" x="0 9 18 27 36 45 54 63 72 81 90 99 108 117 126 135" y="0" text-anchor="middle" xml:space="preserve">2025-01-11 00:00</text>
<text class="xl" transform="translate(297.5,556.3) rotate(-90)" x="0 9 18 27 36 45 54 63 72 81 90 99 108 117 126 135" y="0" text-anchor="middle" xml:space="preserve">2025-01-11 03:00</text>
<text class="xl" transform="translate(367.0,556.3) rotate(-90)" x="0 9 18 27 36 45 54 63 72 81 90 99 108 117 126 135" y="0" text-anchor="middle" xml:space="preserve">2025-01-11 06:00</text>
<text class="xl" transform="translate(436.6,556.3) rotate(-90)" x="0 9 18 27 36 45 54 63 72 81 90 99 108 117 126 135" y="0" text-anchor="middle" xml:space="preserve">2025-01-11 09:00</text>
<text class="xl" transform="translate(506.1,556.3) rotate(-90)" x="0 9 18 27 36 45 54 63 72 81 90 99 108 117 126 135" y="0" text-anchor="middle" xml:space="preserve">2025-01-11 12:00</text>
<text class="xl" transform="translate(575.6,556.3) rotate(-90)" x="0 9 18 27 36 45 54 63 72 81 90 99 108 117 126 135" y="0" text-anchor="middle" xml:space="preserve">2025-01-11 15:00</text>
<text class="xl" transform="translate(645.2,556.3) rotate(-90)" x="0 9 18 27 36 45 54 63 72 81 90 99 108 117 126 135" y="0" text-anchor="middle" xml:space="preserve">2025-01-11 18:00</text>
<text class="xl" transform="translate(714.7,556.3) rotate(-90)" x="0 9 18 27 36 45 54 63 72 81 90 99 108 117 126 135" y="0" text-anchor="middle" xml:space="preserve">2025-01-11 21:00</text>
<text class="xl" transform="translate(784.2,556.3) rotate(-90)" x="0 9 18 27 36 45 54 63 72 81 90 99 108 117 126 135" y="0" text-anchor="middle" xml:space="preserve">2025-01-12 00:00</text>
<text class="xl" transform="translate(853.8,556.3) rotate(-90)" x="0 9 18 27 36 45 54 63 72 81 90 99 108 117 126 135" y="0" text-anchor="middle" xml:space="preserve">2025-01-12 03:00</text>
<text class="xl" transform="translate(923.3,556.3) rotate(-90)" x="0 9 18 27 36 45 54 63 72 81 90 99 108 117 126 135" y="0" text-anchor="middle" xml:space="preserve">2025-01-12 06:00</text>
<text class="xl" transform="translate(992.8,556.3) rotate(-90)" x="0 9 18 27 36 45 54 63 72 81 90 99 108 117 126 135" y="0" text-anchor="middle" xml:space="preserve">2025-01-12 09:00</text>
<text class="xl" transform="translate(1062.4,556.3) rotate(-90)" x="0 9 18 27 36 45 54 63 72 81 90 99 108 117 126 135" y="0" text-anchor="middle" xml:space="preserve">2025-01-12 12:00</text>
<text class="xl" transform="translate(1131.9,556.3) rotate(-90)" x="0 9 18 27 36 45 54 63 72 81 90 99 108 117 126 135" y="0" text-anchor="middle" xml:space="preserve">2025-01-12 15:00</text>
<text class="lg" y="590"><tspan x="444.9" textLength="11.9" lengthAdjust="spacingAndGlyphs">A</tspan><tspan x="456.9 468.9 481.0">254</tspan></text>
<text class="lg" y="590"><tspan x="516.9" textLength="11.9" lengthAdjust="spacingAndGlyphs">A</tspan><tspan x="528.9 540.9 553.0">255</tspan></text>
<text class="lg" y="590"><tspan x="588.9" textLength="11.9" lengthAdjust="spacingAndGlyphs">A</tspan><tspan x="600.9 612.9 625.0">256</tspan></text>
<text class="lg" y="590"><tspan x="660.9" textLength="11.9" lengthAdjust="spacingAndGlyphs">A</tspan><tspan x="672.9 684.9 697.0">257</tspan></text>
<text class="lg" y="590"><tspan x="732.9" textLength="11.9" lengthAdjust="spacingAndGlyphs">A</tspan><tspan x="744.9 756.9 769.0">258</tspan></text>
</g>
</svg>
</body></html>
